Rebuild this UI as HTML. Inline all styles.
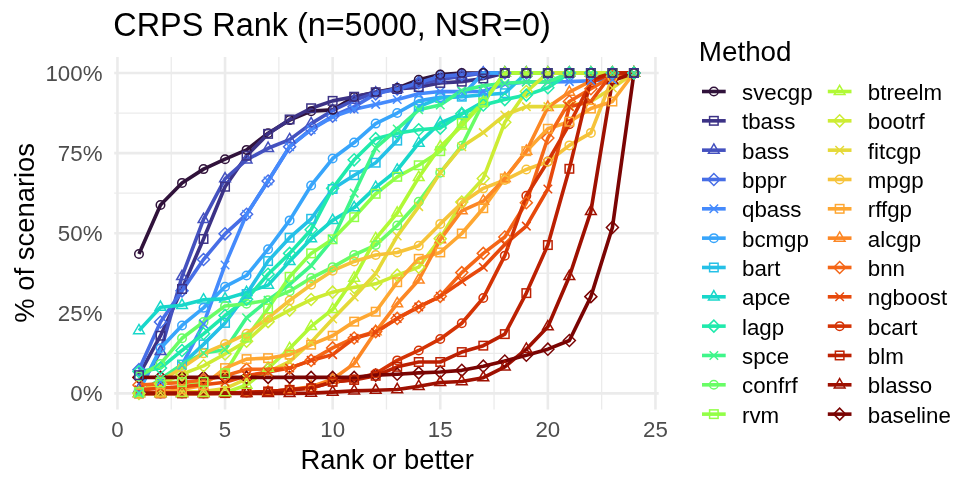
<!DOCTYPE html>
<html><head><meta charset="utf-8"><title>CRPS Rank</title>
<style>html,body{margin:0;padding:0;background:#fff}svg{display:block}</style></head>
<body>
<svg width="977" height="488" viewBox="0 0 977 488">
<rect width="977" height="488" fill="#fff"/>
<g><line x1="171.25" x2="171.25" y1="57.0" y2="409.4" stroke="#ebebeb" stroke-width="1.3"/><line x1="278.85" x2="278.85" y1="57.0" y2="409.4" stroke="#ebebeb" stroke-width="1.3"/><line x1="386.45" x2="386.45" y1="57.0" y2="409.4" stroke="#ebebeb" stroke-width="1.3"/><line x1="494.05" x2="494.05" y1="57.0" y2="409.4" stroke="#ebebeb" stroke-width="1.3"/><line x1="601.65" x2="601.65" y1="57.0" y2="409.4" stroke="#ebebeb" stroke-width="1.3"/><line y1="353.35" y2="353.35" x1="114.2" x2="658.7" stroke="#ebebeb" stroke-width="1.3"/><line y1="273.25" y2="273.25" x1="114.2" x2="658.7" stroke="#ebebeb" stroke-width="1.3"/><line y1="193.15" y2="193.15" x1="114.2" x2="658.7" stroke="#ebebeb" stroke-width="1.3"/><line y1="113.05" y2="113.05" x1="114.2" x2="658.7" stroke="#ebebeb" stroke-width="1.3"/><line x1="117.45" x2="117.45" y1="57.0" y2="409.4" stroke="#ebebeb" stroke-width="2.6"/><line x1="225.05" x2="225.05" y1="57.0" y2="409.4" stroke="#ebebeb" stroke-width="2.6"/><line x1="332.65" x2="332.65" y1="57.0" y2="409.4" stroke="#ebebeb" stroke-width="2.6"/><line x1="440.25" x2="440.25" y1="57.0" y2="409.4" stroke="#ebebeb" stroke-width="2.6"/><line x1="547.85" x2="547.85" y1="57.0" y2="409.4" stroke="#ebebeb" stroke-width="2.6"/><line x1="655.45" x2="655.45" y1="57.0" y2="409.4" stroke="#ebebeb" stroke-width="2.6"/><line y1="393.40" y2="393.40" x1="114.2" x2="658.7" stroke="#ebebeb" stroke-width="2.6"/><line y1="313.30" y2="313.30" x1="114.2" x2="658.7" stroke="#ebebeb" stroke-width="2.6"/><line y1="233.20" y2="233.20" x1="114.2" x2="658.7" stroke="#ebebeb" stroke-width="2.6"/><line y1="153.10" y2="153.10" x1="114.2" x2="658.7" stroke="#ebebeb" stroke-width="2.6"/><line y1="73.00" y2="73.00" x1="114.2" x2="658.7" stroke="#ebebeb" stroke-width="2.6"/></g>
<g fill="none" stroke-linejoin="round" stroke-linecap="butt">
<polyline points="138.97,254.03 160.49,205.00 182.01,182.90 203.53,169.12 225.05,159.19 246.57,149.90 268.09,133.24 289.61,120.10 311.13,111.13 332.65,109.85 354.17,97.03 375.69,92.22 397.21,88.06 418.73,79.73 440.25,74.60 461.77,73.00 483.29,73.00 504.81,73.00 526.33,73.00 547.85,73.00 569.37,73.00 590.89,73.00 612.41,73.00 633.93,73.00" stroke="#30123b" stroke-width="3.6"/>
<polyline points="138.97,375.14 160.49,335.73 182.01,288.95 203.53,238.97 225.05,186.74 246.57,155.66 268.09,133.88 289.61,119.46 311.13,108.24 332.65,100.87 354.17,96.71 375.69,92.22 397.21,89.02 418.73,87.10 440.25,82.93 461.77,81.65 483.29,78.45 504.81,73.00 526.33,73.00 547.85,73.00 569.37,73.00 590.89,73.00 612.41,73.00 633.93,73.00" stroke="#3c3286" stroke-width="3.6"/>
<polyline points="138.97,389.23 160.49,351.43 182.01,276.45 203.53,219.42 225.05,178.73 246.57,159.83 268.09,148.29 289.61,139.64 311.13,123.62 332.65,110.49 354.17,100.23 375.69,92.86 397.21,89.02 418.73,84.21 440.25,79.41 461.77,76.20 483.29,73.00 504.81,73.00 526.33,73.00 547.85,73.00 569.37,73.00 590.89,73.00 612.41,73.00 633.93,73.00" stroke="#4451bf" stroke-width="3.6"/>
<polyline points="138.97,369.69 160.49,321.95 182.01,290.87 203.53,259.47 225.05,233.84 246.57,214.30 268.09,180.97 289.61,146.69 311.13,129.07 332.65,116.25 354.17,106.64 375.69,93.83 397.21,89.02 418.73,82.61 440.25,76.20 461.77,74.60 483.29,73.00 504.81,73.00 526.33,73.00 547.85,73.00 569.37,73.00 590.89,73.00 612.41,73.00 633.93,73.00" stroke="#476ee6" stroke-width="3.6"/>
<polyline points="138.97,392.12 160.49,381.87 182.01,365.20 203.53,323.87 225.05,264.92 246.57,214.30 268.09,180.97 289.61,146.69 311.13,129.71 332.65,116.89 354.17,109.21 375.69,104.40 397.21,99.59 418.73,93.83 440.25,91.58 461.77,91.58 483.29,91.26 504.81,84.21 526.33,81.97 547.85,81.97 569.37,81.65 590.89,80.69 612.41,79.73 633.93,73.00" stroke="#458afc" stroke-width="3.6"/>
<polyline points="138.97,391.48 160.49,348.22 182.01,325.48 203.53,307.85 225.05,286.71 246.57,275.49 268.09,249.22 289.61,220.38 311.13,185.46 332.65,158.55 354.17,142.53 375.69,123.62 397.21,113.05 418.73,100.87 440.25,97.35 461.77,96.07 483.29,73.00 504.81,73.00 526.33,73.00 547.85,73.00 569.37,73.00 590.89,73.00 612.41,73.00 633.93,73.00" stroke="#38a5fb" stroke-width="3.6"/>
<polyline points="138.97,392.44 160.49,382.19 182.01,364.56 203.53,344.38 225.05,322.91 246.57,294.08 268.09,261.07 289.61,237.69 311.13,218.78 332.65,188.98 354.17,175.21 375.69,162.71 397.21,140.60 418.73,106.64 440.25,97.99 461.77,96.71 483.29,94.79 504.81,93.19 526.33,73.00 547.85,73.00 569.37,73.00 590.89,73.00 612.41,73.00 633.93,73.00" stroke="#25c0e7" stroke-width="3.6"/>
<polyline points="138.97,330.60 160.49,307.21 182.01,305.29 203.53,299.84 225.05,298.88 246.57,292.47 268.09,285.10 289.61,261.40 311.13,238.65 332.65,220.38 354.17,207.57 375.69,187.38 397.21,170.08 418.73,143.17 440.25,122.98 461.77,114.01 483.29,101.84 504.81,73.00 526.33,73.00 547.85,73.00 569.37,73.00 590.89,73.00 612.41,73.00 633.93,73.00" stroke="#18d7ca" stroke-width="3.6"/>
<polyline points="138.97,371.61 160.49,368.09 182.01,350.47 203.53,333.81 225.05,315.54 246.57,299.20 268.09,274.21 289.61,253.39 311.13,229.68 332.65,188.34 354.17,159.83 375.69,138.68 397.21,133.24 418.73,129.71 440.25,128.11 461.77,113.69 483.29,105.04 504.81,99.59 526.33,95.11 547.85,87.74 569.37,73.00 590.89,73.00 612.41,73.00 633.93,73.00" stroke="#20eaac" stroke-width="3.6"/>
<polyline points="138.97,393.40 160.49,378.98 182.01,364.56 203.53,353.03 225.05,349.83 246.57,317.79 268.09,300.16 289.61,284.46 311.13,265.56 332.65,239.29 354.17,193.15 375.69,147.97 397.21,129.07 418.73,109.85 440.25,105.04 461.77,90.62 483.29,85.82 504.81,83.25 526.33,81.97 547.85,81.97 569.37,73.00 590.89,73.00 612.41,73.00 633.93,73.00" stroke="#3ff68a" stroke-width="3.6"/>
<polyline points="138.97,376.42 160.49,363.92 182.01,338.29 203.53,321.95 225.05,305.93 246.57,303.69 268.09,300.16 289.61,291.19 311.13,278.06 332.65,267.16 354.17,254.99 375.69,245.05 397.21,225.51 418.73,201.80 440.25,172.64 461.77,145.73 483.29,102.48 504.81,73.00 526.33,73.00 547.85,73.00 569.37,73.00 590.89,73.00 612.41,73.00 633.93,73.00" stroke="#69fd66" stroke-width="3.6"/>
<polyline points="138.97,392.12 160.49,382.51 182.01,382.19 203.53,381.87 225.05,373.21 246.57,337.65 268.09,308.49 289.61,276.77 311.13,253.39 332.65,239.29 354.17,217.18 375.69,193.79 397.21,176.81 418.73,165.28 440.25,151.18 461.77,122.98 483.29,102.48 504.81,73.00 526.33,73.00 547.85,73.00 569.37,73.00 590.89,73.00 612.41,73.00 633.93,73.00" stroke="#92ff47" stroke-width="3.6"/>
<polyline points="138.97,393.40 160.49,393.40 182.01,393.40 203.53,393.40 225.05,392.76 246.57,385.07 268.09,368.09 289.61,348.54 311.13,326.44 332.65,309.46 354.17,278.06 375.69,238.65 397.21,213.01 418.73,177.45 440.25,146.69 461.77,125.87 483.29,102.48 504.81,73.00 526.33,73.00 547.85,73.00 569.37,73.00 590.89,73.00 612.41,73.00 633.93,73.00" stroke="#b1f936" stroke-width="3.6"/>
<polyline points="138.97,393.40 160.49,383.79 182.01,374.18 203.53,365.85 225.05,353.99 246.57,341.17 268.09,321.63 289.61,310.10 311.13,299.52 332.65,292.15 354.17,287.35 375.69,283.82 397.21,275.17 418.73,267.16 440.25,238.65 461.77,202.12 483.29,178.41 504.81,122.34 526.33,91.58 547.85,73.00 569.37,73.00 590.89,73.00 612.41,73.00 633.93,73.00" stroke="#cdec34" stroke-width="3.6"/>
<polyline points="138.97,393.40 160.49,392.76 182.01,392.12 203.53,391.48 225.05,388.59 246.57,378.98 268.09,371.93 289.61,361.68 311.13,342.14 332.65,319.07 354.17,296.96 375.69,273.57 397.21,236.08 418.73,206.61 440.25,172.64 461.77,146.69 483.29,132.59 504.81,114.97 526.33,106.64 547.85,106.64 569.37,105.68 590.89,101.52 612.41,88.06 633.93,73.00" stroke="#e5d938" stroke-width="3.6"/>
<polyline points="138.97,392.44 160.49,381.22 182.01,367.77 203.53,353.35 225.05,344.06 246.57,333.81 268.09,317.79 289.61,300.48 311.13,284.78 332.65,270.69 354.17,261.40 375.69,254.99 397.21,252.42 418.73,245.70 440.25,223.91 461.77,203.08 483.29,188.34 504.81,180.01 526.33,169.44 547.85,161.75 569.37,145.41 590.89,132.91 612.41,77.81 633.93,73.00" stroke="#f6c33a" stroke-width="3.6"/>
<polyline points="138.97,393.40 160.49,392.76 182.01,389.23 203.53,385.39 225.05,368.09 246.57,359.12 268.09,358.16 289.61,354.63 311.13,344.70 332.65,335.73 354.17,321.63 375.69,311.70 397.21,282.22 418.73,258.83 440.25,252.42 461.77,233.52 483.29,208.21 504.81,178.41 526.33,151.18 547.85,128.75 569.37,121.70 590.89,108.56 612.41,101.52 633.93,73.00" stroke="#fea732" stroke-width="3.6"/>
<polyline points="138.97,393.40 160.49,393.40 182.01,393.40 203.53,393.40 225.05,393.40 246.57,392.76 268.09,391.80 289.61,389.56 311.13,386.67 332.65,379.30 354.17,363.60 375.69,331.56 397.21,303.69 418.73,279.98 440.25,239.61 461.77,210.77 483.29,201.16 504.81,178.41 526.33,151.18 547.85,107.28 569.37,92.22 590.89,81.01 612.41,73.00 633.93,73.00" stroke="#fc8725" stroke-width="3.6"/>
<polyline points="138.97,385.07 160.49,383.79 182.01,382.51 203.53,379.94 225.05,375.78 246.57,369.37 268.09,369.05 289.61,368.09 311.13,360.40 332.65,347.90 354.17,337.97 375.69,331.56 397.21,318.43 418.73,306.89 440.25,296.32 461.77,272.61 483.29,253.39 504.81,237.04 526.33,202.76 547.85,138.04 569.37,101.52 590.89,88.70 612.41,76.20 633.93,73.00" stroke="#f46617" stroke-width="3.6"/>
<polyline points="138.97,389.88 160.49,388.27 182.01,386.67 203.53,384.75 225.05,382.19 246.57,375.78 268.09,371.93 289.61,368.09 311.13,360.40 332.65,354.63 354.17,338.29 375.69,332.52 397.21,318.43 418.73,306.89 440.25,296.32 461.77,281.58 483.29,267.16 504.81,244.41 526.33,226.15 547.85,188.98 569.37,106.64 590.89,101.52 612.41,73.00 633.93,73.00" stroke="#e7490c" stroke-width="3.6"/>
<polyline points="138.97,393.40 160.49,393.40 182.01,393.40 203.53,393.40 225.05,393.08 246.57,392.44 268.09,391.48 289.61,389.88 311.13,387.63 332.65,382.19 354.17,379.30 375.69,373.54 397.21,360.40 418.73,350.47 440.25,338.93 461.77,323.23 483.29,297.92 504.81,255.63 526.33,195.71 547.85,161.43 569.37,124.26 590.89,82.61 612.41,73.00 633.93,73.00" stroke="#d43305" stroke-width="3.6"/>
<polyline points="138.97,393.40 160.49,393.40 182.01,393.40 203.53,393.40 225.05,393.08 246.57,392.44 268.09,391.48 289.61,389.88 311.13,388.27 332.65,381.87 354.17,379.94 375.69,375.78 397.21,366.81 418.73,362.00 440.25,362.00 461.77,352.07 483.29,345.66 504.81,334.13 526.33,293.11 547.85,245.05 569.37,168.80 590.89,79.41 612.41,73.00 633.93,73.00" stroke="#bc2002" stroke-width="3.6"/>
<polyline points="138.97,393.40 160.49,393.40 182.01,393.40 203.53,393.40 225.05,393.40 246.57,393.40 268.09,393.40 289.61,393.40 311.13,393.08 332.65,392.12 354.17,390.84 375.69,390.20 397.21,389.56 418.73,386.35 440.25,382.51 461.77,381.55 483.29,377.70 504.81,366.81 526.33,349.18 547.85,326.76 569.37,276.45 590.89,211.41 612.41,80.69 633.93,73.00" stroke="#9e1001" stroke-width="3.6"/>
<polyline points="138.97,377.38 160.49,377.38 182.01,377.38 203.53,377.38 225.05,377.38 246.57,377.38 268.09,377.38 289.61,377.38 311.13,377.38 332.65,377.38 354.17,377.38 375.69,375.14 397.21,374.18 418.73,372.89 440.25,371.93 461.77,370.33 483.29,366.17 504.81,361.04 526.33,355.27 547.85,349.18 569.37,340.53 590.89,296.64 612.41,227.43 633.93,73.00" stroke="#7a0403" stroke-width="3.6"/>
</g>
<g>
<path d="M138.97 387.20L144.34 396.50L133.60 396.50Z" fill="none" stroke="#fc8725" stroke-width="1.5"/>
<path d="M160.49 387.20L165.86 396.50L155.12 396.50Z" fill="none" stroke="#fc8725" stroke-width="1.5"/>
<path d="M182.01 387.20L187.38 396.50L176.64 396.50Z" fill="none" stroke="#fc8725" stroke-width="1.5"/>
<path d="M203.53 387.20L208.90 396.50L198.16 396.50Z" fill="none" stroke="#fc8725" stroke-width="1.5"/>
<path d="M225.05 387.20L230.42 396.50L219.68 396.50Z" fill="none" stroke="#fc8725" stroke-width="1.5"/>
<path d="M246.57 386.56L251.94 395.86L241.20 395.86Z" fill="none" stroke="#fc8725" stroke-width="1.5"/>
<path d="M268.09 385.60L273.46 394.90L262.72 394.90Z" fill="none" stroke="#fc8725" stroke-width="1.5"/>
<path d="M289.61 383.36L294.98 392.65L284.24 392.65Z" fill="none" stroke="#fc8725" stroke-width="1.5"/>
<path d="M311.13 380.48L316.50 389.77L305.76 389.77Z" fill="none" stroke="#fc8725" stroke-width="1.5"/>
<path d="M332.65 373.11L338.02 382.40L327.28 382.40Z" fill="none" stroke="#fc8725" stroke-width="1.5"/>
<path d="M354.17 357.41L359.54 366.70L348.80 366.70Z" fill="none" stroke="#fc8725" stroke-width="1.5"/>
<path d="M375.69 325.37L381.06 334.66L370.32 334.66Z" fill="none" stroke="#fc8725" stroke-width="1.5"/>
<path d="M397.21 297.49L402.58 306.79L391.84 306.79Z" fill="none" stroke="#fc8725" stroke-width="1.5"/>
<path d="M418.73 273.78L424.10 283.08L413.36 283.08Z" fill="none" stroke="#fc8725" stroke-width="1.5"/>
<path d="M440.25 233.41L445.62 242.71L434.88 242.71Z" fill="none" stroke="#fc8725" stroke-width="1.5"/>
<path d="M461.77 204.58L467.14 213.87L456.40 213.87Z" fill="none" stroke="#fc8725" stroke-width="1.5"/>
<path d="M483.29 194.96L488.66 204.26L477.92 204.26Z" fill="none" stroke="#fc8725" stroke-width="1.5"/>
<path d="M504.81 172.22L510.18 181.51L499.44 181.51Z" fill="none" stroke="#fc8725" stroke-width="1.5"/>
<path d="M526.33 144.98L531.70 154.28L520.96 154.28Z" fill="none" stroke="#fc8725" stroke-width="1.5"/>
<path d="M547.85 101.09L553.22 110.38L542.48 110.38Z" fill="none" stroke="#fc8725" stroke-width="1.5"/>
<path d="M569.37 86.03L574.74 95.32L564.00 95.32Z" fill="none" stroke="#fc8725" stroke-width="1.5"/>
<path d="M590.89 74.81L596.26 84.11L585.52 84.11Z" fill="none" stroke="#fc8725" stroke-width="1.5"/>
<path d="M612.41 66.80L617.78 76.10L607.04 76.10Z" fill="none" stroke="#fc8725" stroke-width="1.5"/>
<path d="M633.93 66.80L639.30 76.10L628.56 76.10Z" fill="none" stroke="#fc8725" stroke-width="1.5"/>
<path d="M138.97 324.41L144.34 333.70L133.60 333.70Z" fill="none" stroke="#18d7ca" stroke-width="1.5"/>
<path d="M160.49 301.02L165.86 310.31L155.12 310.31Z" fill="none" stroke="#18d7ca" stroke-width="1.5"/>
<path d="M182.01 299.09L187.38 308.39L176.64 308.39Z" fill="none" stroke="#18d7ca" stroke-width="1.5"/>
<path d="M203.53 293.65L208.90 302.94L198.16 302.94Z" fill="none" stroke="#18d7ca" stroke-width="1.5"/>
<path d="M225.05 292.69L230.42 301.98L219.68 301.98Z" fill="none" stroke="#18d7ca" stroke-width="1.5"/>
<path d="M246.57 286.28L251.94 295.57L241.20 295.57Z" fill="none" stroke="#18d7ca" stroke-width="1.5"/>
<path d="M268.09 278.91L273.46 288.20L262.72 288.20Z" fill="none" stroke="#18d7ca" stroke-width="1.5"/>
<path d="M289.61 255.20L294.98 264.49L284.24 264.49Z" fill="none" stroke="#18d7ca" stroke-width="1.5"/>
<path d="M311.13 232.45L316.50 241.74L305.76 241.74Z" fill="none" stroke="#18d7ca" stroke-width="1.5"/>
<path d="M332.65 214.19L338.02 223.48L327.28 223.48Z" fill="none" stroke="#18d7ca" stroke-width="1.5"/>
<path d="M354.17 201.37L359.54 210.67L348.80 210.67Z" fill="none" stroke="#18d7ca" stroke-width="1.5"/>
<path d="M375.69 181.19L381.06 190.48L370.32 190.48Z" fill="none" stroke="#18d7ca" stroke-width="1.5"/>
<path d="M397.21 163.89L402.58 173.18L391.84 173.18Z" fill="none" stroke="#18d7ca" stroke-width="1.5"/>
<path d="M418.73 136.97L424.10 146.27L413.36 146.27Z" fill="none" stroke="#18d7ca" stroke-width="1.5"/>
<path d="M440.25 116.79L445.62 126.08L434.88 126.08Z" fill="none" stroke="#18d7ca" stroke-width="1.5"/>
<path d="M461.77 107.82L467.14 117.11L456.40 117.11Z" fill="none" stroke="#18d7ca" stroke-width="1.5"/>
<path d="M483.29 95.64L488.66 104.93L477.92 104.93Z" fill="none" stroke="#18d7ca" stroke-width="1.5"/>
<path d="M504.81 66.80L510.18 76.10L499.44 76.10Z" fill="none" stroke="#18d7ca" stroke-width="1.5"/>
<path d="M526.33 66.80L531.70 76.10L520.96 76.10Z" fill="none" stroke="#18d7ca" stroke-width="1.5"/>
<path d="M547.85 66.80L553.22 76.10L542.48 76.10Z" fill="none" stroke="#18d7ca" stroke-width="1.5"/>
<path d="M569.37 66.80L574.74 76.10L564.00 76.10Z" fill="none" stroke="#18d7ca" stroke-width="1.5"/>
<path d="M590.89 66.80L596.26 76.10L585.52 76.10Z" fill="none" stroke="#18d7ca" stroke-width="1.5"/>
<path d="M612.41 66.80L617.78 76.10L607.04 76.10Z" fill="none" stroke="#18d7ca" stroke-width="1.5"/>
<path d="M633.93 66.80L639.30 76.10L628.56 76.10Z" fill="none" stroke="#18d7ca" stroke-width="1.5"/>
<rect x="134.72" y="388.19" width="8.50" height="8.50" fill="none" stroke="#25c0e7" stroke-width="1.5"/>
<rect x="156.24" y="377.94" width="8.50" height="8.50" fill="none" stroke="#25c0e7" stroke-width="1.5"/>
<rect x="177.76" y="360.32" width="8.50" height="8.50" fill="none" stroke="#25c0e7" stroke-width="1.5"/>
<rect x="199.28" y="340.13" width="8.50" height="8.50" fill="none" stroke="#25c0e7" stroke-width="1.5"/>
<rect x="220.80" y="318.66" width="8.50" height="8.50" fill="none" stroke="#25c0e7" stroke-width="1.5"/>
<rect x="242.32" y="289.83" width="8.50" height="8.50" fill="none" stroke="#25c0e7" stroke-width="1.5"/>
<rect x="263.84" y="256.83" width="8.50" height="8.50" fill="none" stroke="#25c0e7" stroke-width="1.5"/>
<rect x="285.36" y="233.44" width="8.50" height="8.50" fill="none" stroke="#25c0e7" stroke-width="1.5"/>
<rect x="306.88" y="214.53" width="8.50" height="8.50" fill="none" stroke="#25c0e7" stroke-width="1.5"/>
<rect x="328.40" y="184.74" width="8.50" height="8.50" fill="none" stroke="#25c0e7" stroke-width="1.5"/>
<rect x="349.92" y="170.96" width="8.50" height="8.50" fill="none" stroke="#25c0e7" stroke-width="1.5"/>
<rect x="371.44" y="158.46" width="8.50" height="8.50" fill="none" stroke="#25c0e7" stroke-width="1.5"/>
<rect x="392.96" y="136.36" width="8.50" height="8.50" fill="none" stroke="#25c0e7" stroke-width="1.5"/>
<rect x="414.48" y="102.39" width="8.50" height="8.50" fill="none" stroke="#25c0e7" stroke-width="1.5"/>
<rect x="436.00" y="93.74" width="8.50" height="8.50" fill="none" stroke="#25c0e7" stroke-width="1.5"/>
<rect x="457.52" y="92.46" width="8.50" height="8.50" fill="none" stroke="#25c0e7" stroke-width="1.5"/>
<rect x="479.04" y="90.54" width="8.50" height="8.50" fill="none" stroke="#25c0e7" stroke-width="1.5"/>
<rect x="500.56" y="88.94" width="8.50" height="8.50" fill="none" stroke="#25c0e7" stroke-width="1.5"/>
<rect x="522.08" y="68.75" width="8.50" height="8.50" fill="none" stroke="#25c0e7" stroke-width="1.5"/>
<rect x="543.60" y="68.75" width="8.50" height="8.50" fill="none" stroke="#25c0e7" stroke-width="1.5"/>
<rect x="565.12" y="68.75" width="8.50" height="8.50" fill="none" stroke="#25c0e7" stroke-width="1.5"/>
<rect x="586.64" y="68.75" width="8.50" height="8.50" fill="none" stroke="#25c0e7" stroke-width="1.5"/>
<rect x="608.16" y="68.75" width="8.50" height="8.50" fill="none" stroke="#25c0e7" stroke-width="1.5"/>
<rect x="629.68" y="68.75" width="8.50" height="8.50" fill="none" stroke="#25c0e7" stroke-width="1.5"/>
<path d="M132.96 377.38L138.97 371.37L144.98 377.38L138.97 383.39Z" fill="none" stroke="#7a0403" stroke-width="1.5"/>
<path d="M154.48 377.38L160.49 371.37L166.50 377.38L160.49 383.39Z" fill="none" stroke="#7a0403" stroke-width="1.5"/>
<path d="M176.00 377.38L182.01 371.37L188.02 377.38L182.01 383.39Z" fill="none" stroke="#7a0403" stroke-width="1.5"/>
<path d="M197.52 377.38L203.53 371.37L209.54 377.38L203.53 383.39Z" fill="none" stroke="#7a0403" stroke-width="1.5"/>
<path d="M219.04 377.38L225.05 371.37L231.06 377.38L225.05 383.39Z" fill="none" stroke="#7a0403" stroke-width="1.5"/>
<path d="M240.56 377.38L246.57 371.37L252.58 377.38L246.57 383.39Z" fill="none" stroke="#7a0403" stroke-width="1.5"/>
<path d="M262.08 377.38L268.09 371.37L274.10 377.38L268.09 383.39Z" fill="none" stroke="#7a0403" stroke-width="1.5"/>
<path d="M283.60 377.38L289.61 371.37L295.62 377.38L289.61 383.39Z" fill="none" stroke="#7a0403" stroke-width="1.5"/>
<path d="M305.12 377.38L311.13 371.37L317.14 377.38L311.13 383.39Z" fill="none" stroke="#7a0403" stroke-width="1.5"/>
<path d="M326.64 377.38L332.65 371.37L338.66 377.38L332.65 383.39Z" fill="none" stroke="#7a0403" stroke-width="1.5"/>
<path d="M348.16 377.38L354.17 371.37L360.18 377.38L354.17 383.39Z" fill="none" stroke="#7a0403" stroke-width="1.5"/>
<path d="M369.68 375.14L375.69 369.13L381.70 375.14L375.69 381.15Z" fill="none" stroke="#7a0403" stroke-width="1.5"/>
<path d="M391.20 374.18L397.21 368.17L403.22 374.18L397.21 380.18Z" fill="none" stroke="#7a0403" stroke-width="1.5"/>
<path d="M412.72 372.89L418.73 366.89L424.74 372.89L418.73 378.90Z" fill="none" stroke="#7a0403" stroke-width="1.5"/>
<path d="M434.24 371.93L440.25 365.92L446.26 371.93L440.25 377.94Z" fill="none" stroke="#7a0403" stroke-width="1.5"/>
<path d="M455.76 370.33L461.77 364.32L467.78 370.33L461.77 376.34Z" fill="none" stroke="#7a0403" stroke-width="1.5"/>
<path d="M477.28 366.17L483.29 360.16L489.30 366.17L483.29 372.17Z" fill="none" stroke="#7a0403" stroke-width="1.5"/>
<path d="M498.80 361.04L504.81 355.03L510.82 361.04L504.81 367.05Z" fill="none" stroke="#7a0403" stroke-width="1.5"/>
<path d="M520.32 355.27L526.33 349.26L532.34 355.27L526.33 361.28Z" fill="none" stroke="#7a0403" stroke-width="1.5"/>
<path d="M541.84 349.18L547.85 343.18L553.86 349.18L547.85 355.19Z" fill="none" stroke="#7a0403" stroke-width="1.5"/>
<path d="M563.36 340.53L569.37 334.53L575.38 340.53L569.37 346.54Z" fill="none" stroke="#7a0403" stroke-width="1.5"/>
<path d="M584.88 296.64L590.89 290.63L596.90 296.64L590.89 302.65Z" fill="none" stroke="#7a0403" stroke-width="1.5"/>
<path d="M606.40 227.43L612.41 221.42L618.42 227.43L612.41 233.44Z" fill="none" stroke="#7a0403" stroke-width="1.5"/>
<path d="M627.92 73.00L633.93 66.99L639.94 73.00L633.93 79.01Z" fill="none" stroke="#7a0403" stroke-width="1.5"/>
<path d="M138.97 383.04L144.34 392.33L133.60 392.33Z" fill="none" stroke="#4451bf" stroke-width="1.5"/>
<path d="M160.49 345.23L165.86 354.53L155.12 354.53Z" fill="none" stroke="#4451bf" stroke-width="1.5"/>
<path d="M182.01 270.26L187.38 279.55L176.64 279.55Z" fill="none" stroke="#4451bf" stroke-width="1.5"/>
<path d="M203.53 213.23L208.90 222.52L198.16 222.52Z" fill="none" stroke="#4451bf" stroke-width="1.5"/>
<path d="M225.05 172.54L230.42 181.83L219.68 181.83Z" fill="none" stroke="#4451bf" stroke-width="1.5"/>
<path d="M246.57 153.63L251.94 162.93L241.20 162.93Z" fill="none" stroke="#4451bf" stroke-width="1.5"/>
<path d="M268.09 142.10L273.46 151.39L262.72 151.39Z" fill="none" stroke="#4451bf" stroke-width="1.5"/>
<path d="M289.61 133.45L294.98 142.74L284.24 142.74Z" fill="none" stroke="#4451bf" stroke-width="1.5"/>
<path d="M311.13 117.43L316.50 126.72L305.76 126.72Z" fill="none" stroke="#4451bf" stroke-width="1.5"/>
<path d="M332.65 104.29L338.02 113.58L327.28 113.58Z" fill="none" stroke="#4451bf" stroke-width="1.5"/>
<path d="M354.17 94.04L359.54 103.33L348.80 103.33Z" fill="none" stroke="#4451bf" stroke-width="1.5"/>
<path d="M375.69 86.67L381.06 95.96L370.32 95.96Z" fill="none" stroke="#4451bf" stroke-width="1.5"/>
<path d="M397.21 82.82L402.58 92.12L391.84 92.12Z" fill="none" stroke="#4451bf" stroke-width="1.5"/>
<path d="M418.73 78.02L424.10 87.31L413.36 87.31Z" fill="none" stroke="#4451bf" stroke-width="1.5"/>
<path d="M440.25 73.21L445.62 82.51L434.88 82.51Z" fill="none" stroke="#4451bf" stroke-width="1.5"/>
<path d="M461.77 70.01L467.14 79.30L456.40 79.30Z" fill="none" stroke="#4451bf" stroke-width="1.5"/>
<path d="M483.29 66.80L488.66 76.10L477.92 76.10Z" fill="none" stroke="#4451bf" stroke-width="1.5"/>
<path d="M504.81 66.80L510.18 76.10L499.44 76.10Z" fill="none" stroke="#4451bf" stroke-width="1.5"/>
<path d="M526.33 66.80L531.70 76.10L520.96 76.10Z" fill="none" stroke="#4451bf" stroke-width="1.5"/>
<path d="M547.85 66.80L553.22 76.10L542.48 76.10Z" fill="none" stroke="#4451bf" stroke-width="1.5"/>
<path d="M569.37 66.80L574.74 76.10L564.00 76.10Z" fill="none" stroke="#4451bf" stroke-width="1.5"/>
<path d="M590.89 66.80L596.26 76.10L585.52 76.10Z" fill="none" stroke="#4451bf" stroke-width="1.5"/>
<path d="M612.41 66.80L617.78 76.10L607.04 76.10Z" fill="none" stroke="#4451bf" stroke-width="1.5"/>
<path d="M633.93 66.80L639.30 76.10L628.56 76.10Z" fill="none" stroke="#4451bf" stroke-width="1.5"/>
<circle cx="138.97" cy="393.40" r="4.25" fill="none" stroke="#d43305" stroke-width="1.5"/>
<circle cx="160.49" cy="393.40" r="4.25" fill="none" stroke="#d43305" stroke-width="1.5"/>
<circle cx="182.01" cy="393.40" r="4.25" fill="none" stroke="#d43305" stroke-width="1.5"/>
<circle cx="203.53" cy="393.40" r="4.25" fill="none" stroke="#d43305" stroke-width="1.5"/>
<circle cx="225.05" cy="393.08" r="4.25" fill="none" stroke="#d43305" stroke-width="1.5"/>
<circle cx="246.57" cy="392.44" r="4.25" fill="none" stroke="#d43305" stroke-width="1.5"/>
<circle cx="268.09" cy="391.48" r="4.25" fill="none" stroke="#d43305" stroke-width="1.5"/>
<circle cx="289.61" cy="389.88" r="4.25" fill="none" stroke="#d43305" stroke-width="1.5"/>
<circle cx="311.13" cy="387.63" r="4.25" fill="none" stroke="#d43305" stroke-width="1.5"/>
<circle cx="332.65" cy="382.19" r="4.25" fill="none" stroke="#d43305" stroke-width="1.5"/>
<circle cx="354.17" cy="379.30" r="4.25" fill="none" stroke="#d43305" stroke-width="1.5"/>
<circle cx="375.69" cy="373.54" r="4.25" fill="none" stroke="#d43305" stroke-width="1.5"/>
<circle cx="397.21" cy="360.40" r="4.25" fill="none" stroke="#d43305" stroke-width="1.5"/>
<circle cx="418.73" cy="350.47" r="4.25" fill="none" stroke="#d43305" stroke-width="1.5"/>
<circle cx="440.25" cy="338.93" r="4.25" fill="none" stroke="#d43305" stroke-width="1.5"/>
<circle cx="461.77" cy="323.23" r="4.25" fill="none" stroke="#d43305" stroke-width="1.5"/>
<circle cx="483.29" cy="297.92" r="4.25" fill="none" stroke="#d43305" stroke-width="1.5"/>
<circle cx="504.81" cy="255.63" r="4.25" fill="none" stroke="#d43305" stroke-width="1.5"/>
<circle cx="526.33" cy="195.71" r="4.25" fill="none" stroke="#d43305" stroke-width="1.5"/>
<circle cx="547.85" cy="161.43" r="4.25" fill="none" stroke="#d43305" stroke-width="1.5"/>
<circle cx="569.37" cy="124.26" r="4.25" fill="none" stroke="#d43305" stroke-width="1.5"/>
<circle cx="590.89" cy="82.61" r="4.25" fill="none" stroke="#d43305" stroke-width="1.5"/>
<circle cx="612.41" cy="73.00" r="4.25" fill="none" stroke="#d43305" stroke-width="1.5"/>
<circle cx="633.93" cy="73.00" r="4.25" fill="none" stroke="#d43305" stroke-width="1.5"/>
<circle cx="138.97" cy="391.48" r="4.25" fill="none" stroke="#38a5fb" stroke-width="1.5"/>
<circle cx="160.49" cy="348.22" r="4.25" fill="none" stroke="#38a5fb" stroke-width="1.5"/>
<circle cx="182.01" cy="325.48" r="4.25" fill="none" stroke="#38a5fb" stroke-width="1.5"/>
<circle cx="203.53" cy="307.85" r="4.25" fill="none" stroke="#38a5fb" stroke-width="1.5"/>
<circle cx="225.05" cy="286.71" r="4.25" fill="none" stroke="#38a5fb" stroke-width="1.5"/>
<circle cx="246.57" cy="275.49" r="4.25" fill="none" stroke="#38a5fb" stroke-width="1.5"/>
<circle cx="268.09" cy="249.22" r="4.25" fill="none" stroke="#38a5fb" stroke-width="1.5"/>
<circle cx="289.61" cy="220.38" r="4.25" fill="none" stroke="#38a5fb" stroke-width="1.5"/>
<circle cx="311.13" cy="185.46" r="4.25" fill="none" stroke="#38a5fb" stroke-width="1.5"/>
<circle cx="332.65" cy="158.55" r="4.25" fill="none" stroke="#38a5fb" stroke-width="1.5"/>
<circle cx="354.17" cy="142.53" r="4.25" fill="none" stroke="#38a5fb" stroke-width="1.5"/>
<circle cx="375.69" cy="123.62" r="4.25" fill="none" stroke="#38a5fb" stroke-width="1.5"/>
<circle cx="397.21" cy="113.05" r="4.25" fill="none" stroke="#38a5fb" stroke-width="1.5"/>
<circle cx="418.73" cy="100.87" r="4.25" fill="none" stroke="#38a5fb" stroke-width="1.5"/>
<circle cx="440.25" cy="97.35" r="4.25" fill="none" stroke="#38a5fb" stroke-width="1.5"/>
<circle cx="461.77" cy="96.07" r="4.25" fill="none" stroke="#38a5fb" stroke-width="1.5"/>
<circle cx="483.29" cy="73.00" r="4.25" fill="none" stroke="#38a5fb" stroke-width="1.5"/>
<circle cx="504.81" cy="73.00" r="4.25" fill="none" stroke="#38a5fb" stroke-width="1.5"/>
<circle cx="526.33" cy="73.00" r="4.25" fill="none" stroke="#38a5fb" stroke-width="1.5"/>
<circle cx="547.85" cy="73.00" r="4.25" fill="none" stroke="#38a5fb" stroke-width="1.5"/>
<circle cx="569.37" cy="73.00" r="4.25" fill="none" stroke="#38a5fb" stroke-width="1.5"/>
<circle cx="590.89" cy="73.00" r="4.25" fill="none" stroke="#38a5fb" stroke-width="1.5"/>
<circle cx="612.41" cy="73.00" r="4.25" fill="none" stroke="#38a5fb" stroke-width="1.5"/>
<circle cx="633.93" cy="73.00" r="4.25" fill="none" stroke="#38a5fb" stroke-width="1.5"/>
<path d="M138.97 387.20L144.34 396.50L133.60 396.50Z" fill="none" stroke="#9e1001" stroke-width="1.5"/>
<path d="M160.49 387.20L165.86 396.50L155.12 396.50Z" fill="none" stroke="#9e1001" stroke-width="1.5"/>
<path d="M182.01 387.20L187.38 396.50L176.64 396.50Z" fill="none" stroke="#9e1001" stroke-width="1.5"/>
<path d="M203.53 387.20L208.90 396.50L198.16 396.50Z" fill="none" stroke="#9e1001" stroke-width="1.5"/>
<path d="M225.05 387.20L230.42 396.50L219.68 396.50Z" fill="none" stroke="#9e1001" stroke-width="1.5"/>
<path d="M246.57 387.20L251.94 396.50L241.20 396.50Z" fill="none" stroke="#9e1001" stroke-width="1.5"/>
<path d="M268.09 387.20L273.46 396.50L262.72 396.50Z" fill="none" stroke="#9e1001" stroke-width="1.5"/>
<path d="M289.61 387.20L294.98 396.50L284.24 396.50Z" fill="none" stroke="#9e1001" stroke-width="1.5"/>
<path d="M311.13 386.88L316.50 396.18L305.76 396.18Z" fill="none" stroke="#9e1001" stroke-width="1.5"/>
<path d="M332.65 385.92L338.02 395.22L327.28 395.22Z" fill="none" stroke="#9e1001" stroke-width="1.5"/>
<path d="M354.17 384.64L359.54 393.93L348.80 393.93Z" fill="none" stroke="#9e1001" stroke-width="1.5"/>
<path d="M375.69 384.00L381.06 393.29L370.32 393.29Z" fill="none" stroke="#9e1001" stroke-width="1.5"/>
<path d="M397.21 383.36L402.58 392.65L391.84 392.65Z" fill="none" stroke="#9e1001" stroke-width="1.5"/>
<path d="M418.73 380.16L424.10 389.45L413.36 389.45Z" fill="none" stroke="#9e1001" stroke-width="1.5"/>
<path d="M440.25 376.31L445.62 385.60L434.88 385.60Z" fill="none" stroke="#9e1001" stroke-width="1.5"/>
<path d="M461.77 375.35L467.14 384.64L456.40 384.64Z" fill="none" stroke="#9e1001" stroke-width="1.5"/>
<path d="M483.29 371.50L488.66 380.80L477.92 380.80Z" fill="none" stroke="#9e1001" stroke-width="1.5"/>
<path d="M504.81 360.61L510.18 369.90L499.44 369.90Z" fill="none" stroke="#9e1001" stroke-width="1.5"/>
<path d="M526.33 342.99L531.70 352.28L520.96 352.28Z" fill="none" stroke="#9e1001" stroke-width="1.5"/>
<path d="M547.85 320.56L553.22 329.85L542.48 329.85Z" fill="none" stroke="#9e1001" stroke-width="1.5"/>
<path d="M569.37 270.26L574.74 279.55L564.00 279.55Z" fill="none" stroke="#9e1001" stroke-width="1.5"/>
<path d="M590.89 205.22L596.26 214.51L585.52 214.51Z" fill="none" stroke="#9e1001" stroke-width="1.5"/>
<path d="M612.41 74.49L617.78 83.79L607.04 83.79Z" fill="none" stroke="#9e1001" stroke-width="1.5"/>
<path d="M633.93 66.80L639.30 76.10L628.56 76.10Z" fill="none" stroke="#9e1001" stroke-width="1.5"/>
<rect x="134.72" y="389.15" width="8.50" height="8.50" fill="none" stroke="#bc2002" stroke-width="1.5"/>
<rect x="156.24" y="389.15" width="8.50" height="8.50" fill="none" stroke="#bc2002" stroke-width="1.5"/>
<rect x="177.76" y="389.15" width="8.50" height="8.50" fill="none" stroke="#bc2002" stroke-width="1.5"/>
<rect x="199.28" y="389.15" width="8.50" height="8.50" fill="none" stroke="#bc2002" stroke-width="1.5"/>
<rect x="220.80" y="388.83" width="8.50" height="8.50" fill="none" stroke="#bc2002" stroke-width="1.5"/>
<rect x="242.32" y="388.19" width="8.50" height="8.50" fill="none" stroke="#bc2002" stroke-width="1.5"/>
<rect x="263.84" y="387.23" width="8.50" height="8.50" fill="none" stroke="#bc2002" stroke-width="1.5"/>
<rect x="285.36" y="385.63" width="8.50" height="8.50" fill="none" stroke="#bc2002" stroke-width="1.5"/>
<rect x="306.88" y="384.02" width="8.50" height="8.50" fill="none" stroke="#bc2002" stroke-width="1.5"/>
<rect x="328.40" y="377.62" width="8.50" height="8.50" fill="none" stroke="#bc2002" stroke-width="1.5"/>
<rect x="349.92" y="375.69" width="8.50" height="8.50" fill="none" stroke="#bc2002" stroke-width="1.5"/>
<rect x="371.44" y="371.53" width="8.50" height="8.50" fill="none" stroke="#bc2002" stroke-width="1.5"/>
<rect x="392.96" y="362.56" width="8.50" height="8.50" fill="none" stroke="#bc2002" stroke-width="1.5"/>
<rect x="414.48" y="357.75" width="8.50" height="8.50" fill="none" stroke="#bc2002" stroke-width="1.5"/>
<rect x="436.00" y="357.75" width="8.50" height="8.50" fill="none" stroke="#bc2002" stroke-width="1.5"/>
<rect x="457.52" y="347.82" width="8.50" height="8.50" fill="none" stroke="#bc2002" stroke-width="1.5"/>
<rect x="479.04" y="341.41" width="8.50" height="8.50" fill="none" stroke="#bc2002" stroke-width="1.5"/>
<rect x="500.56" y="329.88" width="8.50" height="8.50" fill="none" stroke="#bc2002" stroke-width="1.5"/>
<rect x="522.08" y="288.87" width="8.50" height="8.50" fill="none" stroke="#bc2002" stroke-width="1.5"/>
<rect x="543.60" y="240.81" width="8.50" height="8.50" fill="none" stroke="#bc2002" stroke-width="1.5"/>
<rect x="565.12" y="164.55" width="8.50" height="8.50" fill="none" stroke="#bc2002" stroke-width="1.5"/>
<rect x="586.64" y="75.16" width="8.50" height="8.50" fill="none" stroke="#bc2002" stroke-width="1.5"/>
<rect x="608.16" y="68.75" width="8.50" height="8.50" fill="none" stroke="#bc2002" stroke-width="1.5"/>
<rect x="629.68" y="68.75" width="8.50" height="8.50" fill="none" stroke="#bc2002" stroke-width="1.5"/>
<path d="M132.96 385.07L138.97 379.06L144.98 385.07L138.97 391.08Z" fill="none" stroke="#f46617" stroke-width="1.5"/>
<path d="M154.48 383.79L160.49 377.78L166.50 383.79L160.49 389.80Z" fill="none" stroke="#f46617" stroke-width="1.5"/>
<path d="M176.00 382.51L182.01 376.50L188.02 382.51L182.01 388.51Z" fill="none" stroke="#f46617" stroke-width="1.5"/>
<path d="M197.52 379.94L203.53 373.93L209.54 379.94L203.53 385.95Z" fill="none" stroke="#f46617" stroke-width="1.5"/>
<path d="M219.04 375.78L225.05 369.77L231.06 375.78L225.05 381.79Z" fill="none" stroke="#f46617" stroke-width="1.5"/>
<path d="M240.56 369.37L246.57 363.36L252.58 369.37L246.57 375.38Z" fill="none" stroke="#f46617" stroke-width="1.5"/>
<path d="M262.08 369.05L268.09 363.04L274.10 369.05L268.09 375.06Z" fill="none" stroke="#f46617" stroke-width="1.5"/>
<path d="M283.60 368.09L289.61 362.08L295.62 368.09L289.61 374.10Z" fill="none" stroke="#f46617" stroke-width="1.5"/>
<path d="M305.12 360.40L311.13 354.39L317.14 360.40L311.13 366.41Z" fill="none" stroke="#f46617" stroke-width="1.5"/>
<path d="M326.64 347.90L332.65 341.89L338.66 347.90L332.65 353.91Z" fill="none" stroke="#f46617" stroke-width="1.5"/>
<path d="M348.16 337.97L354.17 331.96L360.18 337.97L354.17 343.98Z" fill="none" stroke="#f46617" stroke-width="1.5"/>
<path d="M369.68 331.56L375.69 325.55L381.70 331.56L375.69 337.57Z" fill="none" stroke="#f46617" stroke-width="1.5"/>
<path d="M391.20 318.43L397.21 312.42L403.22 318.43L397.21 324.43Z" fill="none" stroke="#f46617" stroke-width="1.5"/>
<path d="M412.72 306.89L418.73 300.88L424.74 306.89L418.73 312.90Z" fill="none" stroke="#f46617" stroke-width="1.5"/>
<path d="M434.24 296.32L440.25 290.31L446.26 296.32L440.25 302.33Z" fill="none" stroke="#f46617" stroke-width="1.5"/>
<path d="M455.76 272.61L461.77 266.60L467.78 272.61L461.77 278.62Z" fill="none" stroke="#f46617" stroke-width="1.5"/>
<path d="M477.28 253.39L483.29 247.38L489.30 253.39L483.29 259.39Z" fill="none" stroke="#f46617" stroke-width="1.5"/>
<path d="M498.80 237.04L504.81 231.04L510.82 237.04L504.81 243.05Z" fill="none" stroke="#f46617" stroke-width="1.5"/>
<path d="M520.32 202.76L526.33 196.75L532.34 202.76L526.33 208.77Z" fill="none" stroke="#f46617" stroke-width="1.5"/>
<path d="M541.84 138.04L547.85 132.03L553.86 138.04L547.85 144.05Z" fill="none" stroke="#f46617" stroke-width="1.5"/>
<path d="M563.36 101.52L569.37 95.51L575.38 101.52L569.37 107.52Z" fill="none" stroke="#f46617" stroke-width="1.5"/>
<path d="M584.88 88.70L590.89 82.69L596.90 88.70L590.89 94.71Z" fill="none" stroke="#f46617" stroke-width="1.5"/>
<path d="M606.40 76.20L612.41 70.20L618.42 76.20L612.41 82.21Z" fill="none" stroke="#f46617" stroke-width="1.5"/>
<path d="M627.92 73.00L633.93 66.99L639.94 73.00L633.93 79.01Z" fill="none" stroke="#f46617" stroke-width="1.5"/>
<path d="M132.96 393.40L138.97 387.39L144.98 393.40L138.97 399.41Z" fill="none" stroke="#cdec34" stroke-width="1.5"/>
<path d="M154.48 383.79L160.49 377.78L166.50 383.79L160.49 389.80Z" fill="none" stroke="#cdec34" stroke-width="1.5"/>
<path d="M176.00 374.18L182.01 368.17L188.02 374.18L182.01 380.18Z" fill="none" stroke="#cdec34" stroke-width="1.5"/>
<path d="M197.52 365.85L203.53 359.84L209.54 365.85L203.53 371.85Z" fill="none" stroke="#cdec34" stroke-width="1.5"/>
<path d="M219.04 353.99L225.05 347.98L231.06 353.99L225.05 360.00Z" fill="none" stroke="#cdec34" stroke-width="1.5"/>
<path d="M240.56 341.17L246.57 335.17L252.58 341.17L246.57 347.18Z" fill="none" stroke="#cdec34" stroke-width="1.5"/>
<path d="M262.08 321.63L268.09 315.62L274.10 321.63L268.09 327.64Z" fill="none" stroke="#cdec34" stroke-width="1.5"/>
<path d="M283.60 310.10L289.61 304.09L295.62 310.10L289.61 316.10Z" fill="none" stroke="#cdec34" stroke-width="1.5"/>
<path d="M305.12 299.52L311.13 293.51L317.14 299.52L311.13 305.53Z" fill="none" stroke="#cdec34" stroke-width="1.5"/>
<path d="M326.64 292.15L332.65 286.15L338.66 292.15L332.65 298.16Z" fill="none" stroke="#cdec34" stroke-width="1.5"/>
<path d="M348.16 287.35L354.17 281.34L360.18 287.35L354.17 293.36Z" fill="none" stroke="#cdec34" stroke-width="1.5"/>
<path d="M369.68 283.82L375.69 277.81L381.70 283.82L375.69 289.83Z" fill="none" stroke="#cdec34" stroke-width="1.5"/>
<path d="M391.20 275.17L397.21 269.16L403.22 275.17L397.21 281.18Z" fill="none" stroke="#cdec34" stroke-width="1.5"/>
<path d="M412.72 267.16L418.73 261.15L424.74 267.16L418.73 273.17Z" fill="none" stroke="#cdec34" stroke-width="1.5"/>
<path d="M434.24 238.65L440.25 232.64L446.26 238.65L440.25 244.66Z" fill="none" stroke="#cdec34" stroke-width="1.5"/>
<path d="M455.76 202.12L461.77 196.11L467.78 202.12L461.77 208.13Z" fill="none" stroke="#cdec34" stroke-width="1.5"/>
<path d="M477.28 178.41L483.29 172.40L489.30 178.41L483.29 184.42Z" fill="none" stroke="#cdec34" stroke-width="1.5"/>
<path d="M498.80 122.34L504.81 116.33L510.82 122.34L504.81 128.35Z" fill="none" stroke="#cdec34" stroke-width="1.5"/>
<path d="M520.32 91.58L526.33 85.57L532.34 91.58L526.33 97.59Z" fill="none" stroke="#cdec34" stroke-width="1.5"/>
<path d="M541.84 73.00L547.85 66.99L553.86 73.00L547.85 79.01Z" fill="none" stroke="#cdec34" stroke-width="1.5"/>
<path d="M563.36 73.00L569.37 66.99L575.38 73.00L569.37 79.01Z" fill="none" stroke="#cdec34" stroke-width="1.5"/>
<path d="M584.88 73.00L590.89 66.99L596.90 73.00L590.89 79.01Z" fill="none" stroke="#cdec34" stroke-width="1.5"/>
<path d="M606.40 73.00L612.41 66.99L618.42 73.00L612.41 79.01Z" fill="none" stroke="#cdec34" stroke-width="1.5"/>
<path d="M627.92 73.00L633.93 66.99L639.94 73.00L633.93 79.01Z" fill="none" stroke="#cdec34" stroke-width="1.5"/>
<path d="M132.96 369.69L138.97 363.68L144.98 369.69L138.97 375.70Z" fill="none" stroke="#476ee6" stroke-width="1.5"/>
<path d="M154.48 321.95L160.49 315.94L166.50 321.95L160.49 327.96Z" fill="none" stroke="#476ee6" stroke-width="1.5"/>
<path d="M176.00 290.87L182.01 284.86L188.02 290.87L182.01 296.88Z" fill="none" stroke="#476ee6" stroke-width="1.5"/>
<path d="M197.52 259.47L203.53 253.46L209.54 259.47L203.53 265.48Z" fill="none" stroke="#476ee6" stroke-width="1.5"/>
<path d="M219.04 233.84L225.05 227.83L231.06 233.84L225.05 239.85Z" fill="none" stroke="#476ee6" stroke-width="1.5"/>
<path d="M240.56 214.30L246.57 208.29L252.58 214.30L246.57 220.30Z" fill="none" stroke="#476ee6" stroke-width="1.5"/>
<path d="M262.08 180.97L268.09 174.97L274.10 180.97L268.09 186.98Z" fill="none" stroke="#476ee6" stroke-width="1.5"/>
<path d="M283.60 146.69L289.61 140.68L295.62 146.69L289.61 152.70Z" fill="none" stroke="#476ee6" stroke-width="1.5"/>
<path d="M305.12 129.07L311.13 123.06L317.14 129.07L311.13 135.08Z" fill="none" stroke="#476ee6" stroke-width="1.5"/>
<path d="M326.64 116.25L332.65 110.25L338.66 116.25L332.65 122.26Z" fill="none" stroke="#476ee6" stroke-width="1.5"/>
<path d="M348.16 106.64L354.17 100.63L360.18 106.64L354.17 112.65Z" fill="none" stroke="#476ee6" stroke-width="1.5"/>
<path d="M369.68 93.83L375.69 87.82L381.70 93.83L375.69 99.83Z" fill="none" stroke="#476ee6" stroke-width="1.5"/>
<path d="M391.20 89.02L397.21 83.01L403.22 89.02L397.21 95.03Z" fill="none" stroke="#476ee6" stroke-width="1.5"/>
<path d="M412.72 82.61L418.73 76.60L424.74 82.61L418.73 88.62Z" fill="none" stroke="#476ee6" stroke-width="1.5"/>
<path d="M434.24 76.20L440.25 70.20L446.26 76.20L440.25 82.21Z" fill="none" stroke="#476ee6" stroke-width="1.5"/>
<path d="M455.76 74.60L461.77 68.59L467.78 74.60L461.77 80.61Z" fill="none" stroke="#476ee6" stroke-width="1.5"/>
<path d="M477.28 73.00L483.29 66.99L489.30 73.00L483.29 79.01Z" fill="none" stroke="#476ee6" stroke-width="1.5"/>
<path d="M498.80 73.00L504.81 66.99L510.82 73.00L504.81 79.01Z" fill="none" stroke="#476ee6" stroke-width="1.5"/>
<path d="M520.32 73.00L526.33 66.99L532.34 73.00L526.33 79.01Z" fill="none" stroke="#476ee6" stroke-width="1.5"/>
<path d="M541.84 73.00L547.85 66.99L553.86 73.00L547.85 79.01Z" fill="none" stroke="#476ee6" stroke-width="1.5"/>
<path d="M563.36 73.00L569.37 66.99L575.38 73.00L569.37 79.01Z" fill="none" stroke="#476ee6" stroke-width="1.5"/>
<path d="M584.88 73.00L590.89 66.99L596.90 73.00L590.89 79.01Z" fill="none" stroke="#476ee6" stroke-width="1.5"/>
<path d="M606.40 73.00L612.41 66.99L618.42 73.00L612.41 79.01Z" fill="none" stroke="#476ee6" stroke-width="1.5"/>
<path d="M627.92 73.00L633.93 66.99L639.94 73.00L633.93 79.01Z" fill="none" stroke="#476ee6" stroke-width="1.5"/>
<path d="M138.97 387.20L144.34 396.50L133.60 396.50Z" fill="none" stroke="#b1f936" stroke-width="1.5"/>
<path d="M160.49 387.20L165.86 396.50L155.12 396.50Z" fill="none" stroke="#b1f936" stroke-width="1.5"/>
<path d="M182.01 387.20L187.38 396.50L176.64 396.50Z" fill="none" stroke="#b1f936" stroke-width="1.5"/>
<path d="M203.53 387.20L208.90 396.50L198.16 396.50Z" fill="none" stroke="#b1f936" stroke-width="1.5"/>
<path d="M225.05 386.56L230.42 395.86L219.68 395.86Z" fill="none" stroke="#b1f936" stroke-width="1.5"/>
<path d="M246.57 378.87L251.94 388.17L241.20 388.17Z" fill="none" stroke="#b1f936" stroke-width="1.5"/>
<path d="M268.09 361.89L273.46 371.19L262.72 371.19Z" fill="none" stroke="#b1f936" stroke-width="1.5"/>
<path d="M289.61 342.35L294.98 351.64L284.24 351.64Z" fill="none" stroke="#b1f936" stroke-width="1.5"/>
<path d="M311.13 320.24L316.50 329.53L305.76 329.53Z" fill="none" stroke="#b1f936" stroke-width="1.5"/>
<path d="M332.65 303.26L338.02 312.55L327.28 312.55Z" fill="none" stroke="#b1f936" stroke-width="1.5"/>
<path d="M354.17 271.86L359.54 281.15L348.80 281.15Z" fill="none" stroke="#b1f936" stroke-width="1.5"/>
<path d="M375.69 232.45L381.06 241.74L370.32 241.74Z" fill="none" stroke="#b1f936" stroke-width="1.5"/>
<path d="M397.21 206.82L402.58 216.11L391.84 216.11Z" fill="none" stroke="#b1f936" stroke-width="1.5"/>
<path d="M418.73 171.25L424.10 180.55L413.36 180.55Z" fill="none" stroke="#b1f936" stroke-width="1.5"/>
<path d="M440.25 140.50L445.62 149.79L434.88 149.79Z" fill="none" stroke="#b1f936" stroke-width="1.5"/>
<path d="M461.77 119.67L467.14 128.96L456.40 128.96Z" fill="none" stroke="#b1f936" stroke-width="1.5"/>
<path d="M483.29 96.28L488.66 105.57L477.92 105.57Z" fill="none" stroke="#b1f936" stroke-width="1.5"/>
<path d="M504.81 66.80L510.18 76.10L499.44 76.10Z" fill="none" stroke="#b1f936" stroke-width="1.5"/>
<path d="M526.33 66.80L531.70 76.10L520.96 76.10Z" fill="none" stroke="#b1f936" stroke-width="1.5"/>
<path d="M547.85 66.80L553.22 76.10L542.48 76.10Z" fill="none" stroke="#b1f936" stroke-width="1.5"/>
<path d="M569.37 66.80L574.74 76.10L564.00 76.10Z" fill="none" stroke="#b1f936" stroke-width="1.5"/>
<path d="M590.89 66.80L596.26 76.10L585.52 76.10Z" fill="none" stroke="#b1f936" stroke-width="1.5"/>
<path d="M612.41 66.80L617.78 76.10L607.04 76.10Z" fill="none" stroke="#b1f936" stroke-width="1.5"/>
<path d="M633.93 66.80L639.30 76.10L628.56 76.10Z" fill="none" stroke="#b1f936" stroke-width="1.5"/>
<circle cx="138.97" cy="376.42" r="4.25" fill="none" stroke="#69fd66" stroke-width="1.5"/>
<circle cx="160.49" cy="363.92" r="4.25" fill="none" stroke="#69fd66" stroke-width="1.5"/>
<circle cx="182.01" cy="338.29" r="4.25" fill="none" stroke="#69fd66" stroke-width="1.5"/>
<circle cx="203.53" cy="321.95" r="4.25" fill="none" stroke="#69fd66" stroke-width="1.5"/>
<circle cx="225.05" cy="305.93" r="4.25" fill="none" stroke="#69fd66" stroke-width="1.5"/>
<circle cx="246.57" cy="303.69" r="4.25" fill="none" stroke="#69fd66" stroke-width="1.5"/>
<circle cx="268.09" cy="300.16" r="4.25" fill="none" stroke="#69fd66" stroke-width="1.5"/>
<circle cx="289.61" cy="291.19" r="4.25" fill="none" stroke="#69fd66" stroke-width="1.5"/>
<circle cx="311.13" cy="278.06" r="4.25" fill="none" stroke="#69fd66" stroke-width="1.5"/>
<circle cx="332.65" cy="267.16" r="4.25" fill="none" stroke="#69fd66" stroke-width="1.5"/>
<circle cx="354.17" cy="254.99" r="4.25" fill="none" stroke="#69fd66" stroke-width="1.5"/>
<circle cx="375.69" cy="245.05" r="4.25" fill="none" stroke="#69fd66" stroke-width="1.5"/>
<circle cx="397.21" cy="225.51" r="4.25" fill="none" stroke="#69fd66" stroke-width="1.5"/>
<circle cx="418.73" cy="201.80" r="4.25" fill="none" stroke="#69fd66" stroke-width="1.5"/>
<circle cx="440.25" cy="172.64" r="4.25" fill="none" stroke="#69fd66" stroke-width="1.5"/>
<circle cx="461.77" cy="145.73" r="4.25" fill="none" stroke="#69fd66" stroke-width="1.5"/>
<circle cx="483.29" cy="102.48" r="4.25" fill="none" stroke="#69fd66" stroke-width="1.5"/>
<circle cx="504.81" cy="73.00" r="4.25" fill="none" stroke="#69fd66" stroke-width="1.5"/>
<circle cx="526.33" cy="73.00" r="4.25" fill="none" stroke="#69fd66" stroke-width="1.5"/>
<circle cx="547.85" cy="73.00" r="4.25" fill="none" stroke="#69fd66" stroke-width="1.5"/>
<circle cx="569.37" cy="73.00" r="4.25" fill="none" stroke="#69fd66" stroke-width="1.5"/>
<circle cx="590.89" cy="73.00" r="4.25" fill="none" stroke="#69fd66" stroke-width="1.5"/>
<circle cx="612.41" cy="73.00" r="4.25" fill="none" stroke="#69fd66" stroke-width="1.5"/>
<circle cx="633.93" cy="73.00" r="4.25" fill="none" stroke="#69fd66" stroke-width="1.5"/>
<path d="M134.72 389.15L143.22 397.65M134.72 397.65L143.22 389.15" fill="none" stroke="#e5d938" stroke-width="1.5"/>
<path d="M156.24 388.51L164.74 397.01M156.24 397.01L164.74 388.51" fill="none" stroke="#e5d938" stroke-width="1.5"/>
<path d="M177.76 387.87L186.26 396.37M177.76 396.37L186.26 387.87" fill="none" stroke="#e5d938" stroke-width="1.5"/>
<path d="M199.28 387.23L207.78 395.73M199.28 395.73L207.78 387.23" fill="none" stroke="#e5d938" stroke-width="1.5"/>
<path d="M220.80 384.35L229.30 392.84M220.80 392.84L229.30 384.35" fill="none" stroke="#e5d938" stroke-width="1.5"/>
<path d="M242.32 374.73L250.82 383.23M242.32 383.23L250.82 374.73" fill="none" stroke="#e5d938" stroke-width="1.5"/>
<path d="M263.84 367.68L272.34 376.18M263.84 376.18L272.34 367.68" fill="none" stroke="#e5d938" stroke-width="1.5"/>
<path d="M285.36 357.43L293.86 365.93M285.36 365.93L293.86 357.43" fill="none" stroke="#e5d938" stroke-width="1.5"/>
<path d="M306.88 337.89L315.38 346.38M306.88 346.38L315.38 337.89" fill="none" stroke="#e5d938" stroke-width="1.5"/>
<path d="M328.40 314.82L336.90 323.32M328.40 323.32L336.90 314.82" fill="none" stroke="#e5d938" stroke-width="1.5"/>
<path d="M349.92 292.71L358.42 301.21M349.92 301.21L358.42 292.71" fill="none" stroke="#e5d938" stroke-width="1.5"/>
<path d="M371.44 269.32L379.94 277.82M371.44 277.82L379.94 269.32" fill="none" stroke="#e5d938" stroke-width="1.5"/>
<path d="M392.96 231.83L401.46 240.33M392.96 240.33L401.46 231.83" fill="none" stroke="#e5d938" stroke-width="1.5"/>
<path d="M414.48 202.36L422.98 210.86M414.48 210.86L422.98 202.36" fill="none" stroke="#e5d938" stroke-width="1.5"/>
<path d="M436.00 168.40L444.50 176.89M436.00 176.89L444.50 168.40" fill="none" stroke="#e5d938" stroke-width="1.5"/>
<path d="M457.52 142.44L466.02 150.94M457.52 150.94L466.02 142.44" fill="none" stroke="#e5d938" stroke-width="1.5"/>
<path d="M479.04 128.35L487.54 136.84M479.04 136.84L487.54 128.35" fill="none" stroke="#e5d938" stroke-width="1.5"/>
<path d="M500.56 110.72L509.06 119.22M500.56 119.22L509.06 110.72" fill="none" stroke="#e5d938" stroke-width="1.5"/>
<path d="M522.08 102.39L530.58 110.89M522.08 110.89L530.58 102.39" fill="none" stroke="#e5d938" stroke-width="1.5"/>
<path d="M543.60 102.39L552.10 110.89M543.60 110.89L552.10 102.39" fill="none" stroke="#e5d938" stroke-width="1.5"/>
<path d="M565.12 101.43L573.62 109.93M565.12 109.93L573.62 101.43" fill="none" stroke="#e5d938" stroke-width="1.5"/>
<path d="M586.64 97.27L595.14 105.76M586.64 105.76L595.14 97.27" fill="none" stroke="#e5d938" stroke-width="1.5"/>
<path d="M608.16 83.81L616.66 92.31M608.16 92.31L616.66 83.81" fill="none" stroke="#e5d938" stroke-width="1.5"/>
<path d="M629.68 68.75L638.18 77.25M629.68 77.25L638.18 68.75" fill="none" stroke="#e5d938" stroke-width="1.5"/>
<path d="M132.96 371.61L138.97 365.60L144.98 371.61L138.97 377.62Z" fill="none" stroke="#20eaac" stroke-width="1.5"/>
<path d="M154.48 368.09L160.49 362.08L166.50 368.09L160.49 374.10Z" fill="none" stroke="#20eaac" stroke-width="1.5"/>
<path d="M176.00 350.47L182.01 344.46L188.02 350.47L182.01 356.47Z" fill="none" stroke="#20eaac" stroke-width="1.5"/>
<path d="M197.52 333.81L203.53 327.80L209.54 333.81L203.53 339.81Z" fill="none" stroke="#20eaac" stroke-width="1.5"/>
<path d="M219.04 315.54L225.05 309.53L231.06 315.54L225.05 321.55Z" fill="none" stroke="#20eaac" stroke-width="1.5"/>
<path d="M240.56 299.20L246.57 293.19L252.58 299.20L246.57 305.21Z" fill="none" stroke="#20eaac" stroke-width="1.5"/>
<path d="M262.08 274.21L268.09 268.20L274.10 274.21L268.09 280.22Z" fill="none" stroke="#20eaac" stroke-width="1.5"/>
<path d="M283.60 253.39L289.61 247.38L295.62 253.39L289.61 259.39Z" fill="none" stroke="#20eaac" stroke-width="1.5"/>
<path d="M305.12 229.68L311.13 223.67L317.14 229.68L311.13 235.68Z" fill="none" stroke="#20eaac" stroke-width="1.5"/>
<path d="M326.64 188.34L332.65 182.34L338.66 188.34L332.65 194.35Z" fill="none" stroke="#20eaac" stroke-width="1.5"/>
<path d="M348.16 159.83L354.17 153.82L360.18 159.83L354.17 165.84Z" fill="none" stroke="#20eaac" stroke-width="1.5"/>
<path d="M369.68 138.68L375.69 132.67L381.70 138.68L375.69 144.69Z" fill="none" stroke="#20eaac" stroke-width="1.5"/>
<path d="M391.20 133.24L397.21 127.23L403.22 133.24L397.21 139.24Z" fill="none" stroke="#20eaac" stroke-width="1.5"/>
<path d="M412.72 129.71L418.73 123.70L424.74 129.71L418.73 135.72Z" fill="none" stroke="#20eaac" stroke-width="1.5"/>
<path d="M434.24 128.11L440.25 122.10L446.26 128.11L440.25 134.12Z" fill="none" stroke="#20eaac" stroke-width="1.5"/>
<path d="M455.76 113.69L461.77 107.68L467.78 113.69L461.77 119.70Z" fill="none" stroke="#20eaac" stroke-width="1.5"/>
<path d="M477.28 105.04L483.29 99.03L489.30 105.04L483.29 111.05Z" fill="none" stroke="#20eaac" stroke-width="1.5"/>
<path d="M498.80 99.59L504.81 93.58L510.82 99.59L504.81 105.60Z" fill="none" stroke="#20eaac" stroke-width="1.5"/>
<path d="M520.32 95.11L526.33 89.10L532.34 95.11L526.33 101.12Z" fill="none" stroke="#20eaac" stroke-width="1.5"/>
<path d="M541.84 87.74L547.85 81.73L553.86 87.74L547.85 93.75Z" fill="none" stroke="#20eaac" stroke-width="1.5"/>
<path d="M563.36 73.00L569.37 66.99L575.38 73.00L569.37 79.01Z" fill="none" stroke="#20eaac" stroke-width="1.5"/>
<path d="M584.88 73.00L590.89 66.99L596.90 73.00L590.89 79.01Z" fill="none" stroke="#20eaac" stroke-width="1.5"/>
<path d="M606.40 73.00L612.41 66.99L618.42 73.00L612.41 79.01Z" fill="none" stroke="#20eaac" stroke-width="1.5"/>
<path d="M627.92 73.00L633.93 66.99L639.94 73.00L633.93 79.01Z" fill="none" stroke="#20eaac" stroke-width="1.5"/>
<circle cx="138.97" cy="392.44" r="4.25" fill="none" stroke="#f6c33a" stroke-width="1.5"/>
<circle cx="160.49" cy="381.22" r="4.25" fill="none" stroke="#f6c33a" stroke-width="1.5"/>
<circle cx="182.01" cy="367.77" r="4.25" fill="none" stroke="#f6c33a" stroke-width="1.5"/>
<circle cx="203.53" cy="353.35" r="4.25" fill="none" stroke="#f6c33a" stroke-width="1.5"/>
<circle cx="225.05" cy="344.06" r="4.25" fill="none" stroke="#f6c33a" stroke-width="1.5"/>
<circle cx="246.57" cy="333.81" r="4.25" fill="none" stroke="#f6c33a" stroke-width="1.5"/>
<circle cx="268.09" cy="317.79" r="4.25" fill="none" stroke="#f6c33a" stroke-width="1.5"/>
<circle cx="289.61" cy="300.48" r="4.25" fill="none" stroke="#f6c33a" stroke-width="1.5"/>
<circle cx="311.13" cy="284.78" r="4.25" fill="none" stroke="#f6c33a" stroke-width="1.5"/>
<circle cx="332.65" cy="270.69" r="4.25" fill="none" stroke="#f6c33a" stroke-width="1.5"/>
<circle cx="354.17" cy="261.40" r="4.25" fill="none" stroke="#f6c33a" stroke-width="1.5"/>
<circle cx="375.69" cy="254.99" r="4.25" fill="none" stroke="#f6c33a" stroke-width="1.5"/>
<circle cx="397.21" cy="252.42" r="4.25" fill="none" stroke="#f6c33a" stroke-width="1.5"/>
<circle cx="418.73" cy="245.70" r="4.25" fill="none" stroke="#f6c33a" stroke-width="1.5"/>
<circle cx="440.25" cy="223.91" r="4.25" fill="none" stroke="#f6c33a" stroke-width="1.5"/>
<circle cx="461.77" cy="203.08" r="4.25" fill="none" stroke="#f6c33a" stroke-width="1.5"/>
<circle cx="483.29" cy="188.34" r="4.25" fill="none" stroke="#f6c33a" stroke-width="1.5"/>
<circle cx="504.81" cy="180.01" r="4.25" fill="none" stroke="#f6c33a" stroke-width="1.5"/>
<circle cx="526.33" cy="169.44" r="4.25" fill="none" stroke="#f6c33a" stroke-width="1.5"/>
<circle cx="547.85" cy="161.75" r="4.25" fill="none" stroke="#f6c33a" stroke-width="1.5"/>
<circle cx="569.37" cy="145.41" r="4.25" fill="none" stroke="#f6c33a" stroke-width="1.5"/>
<circle cx="590.89" cy="132.91" r="4.25" fill="none" stroke="#f6c33a" stroke-width="1.5"/>
<circle cx="612.41" cy="77.81" r="4.25" fill="none" stroke="#f6c33a" stroke-width="1.5"/>
<circle cx="633.93" cy="73.00" r="4.25" fill="none" stroke="#f6c33a" stroke-width="1.5"/>
<path d="M134.72 385.63L143.22 394.12M134.72 394.12L143.22 385.63" fill="none" stroke="#e7490c" stroke-width="1.5"/>
<path d="M156.24 384.02L164.74 392.52M156.24 392.52L164.74 384.02" fill="none" stroke="#e7490c" stroke-width="1.5"/>
<path d="M177.76 382.42L186.26 390.92M177.76 390.92L186.26 382.42" fill="none" stroke="#e7490c" stroke-width="1.5"/>
<path d="M199.28 380.50L207.78 389.00M199.28 389.00L207.78 380.50" fill="none" stroke="#e7490c" stroke-width="1.5"/>
<path d="M220.80 377.94L229.30 386.43M220.80 386.43L229.30 377.94" fill="none" stroke="#e7490c" stroke-width="1.5"/>
<path d="M242.32 371.53L250.82 380.03M242.32 380.03L250.82 371.53" fill="none" stroke="#e7490c" stroke-width="1.5"/>
<path d="M263.84 367.68L272.34 376.18M263.84 376.18L272.34 367.68" fill="none" stroke="#e7490c" stroke-width="1.5"/>
<path d="M285.36 363.84L293.86 372.34M285.36 372.34L293.86 363.84" fill="none" stroke="#e7490c" stroke-width="1.5"/>
<path d="M306.88 356.15L315.38 364.65M306.88 364.65L315.38 356.15" fill="none" stroke="#e7490c" stroke-width="1.5"/>
<path d="M328.40 350.38L336.90 358.88M328.40 358.88L336.90 350.38" fill="none" stroke="#e7490c" stroke-width="1.5"/>
<path d="M349.92 334.04L358.42 342.54M349.92 342.54L358.42 334.04" fill="none" stroke="#e7490c" stroke-width="1.5"/>
<path d="M371.44 328.28L379.94 336.77M371.44 336.77L379.94 328.28" fill="none" stroke="#e7490c" stroke-width="1.5"/>
<path d="M392.96 314.18L401.46 322.68M392.96 322.68L401.46 314.18" fill="none" stroke="#e7490c" stroke-width="1.5"/>
<path d="M414.48 302.64L422.98 311.14M414.48 311.14L422.98 302.64" fill="none" stroke="#e7490c" stroke-width="1.5"/>
<path d="M436.00 292.07L444.50 300.57M436.00 300.57L444.50 292.07" fill="none" stroke="#e7490c" stroke-width="1.5"/>
<path d="M457.52 277.33L466.02 285.83M457.52 285.83L466.02 277.33" fill="none" stroke="#e7490c" stroke-width="1.5"/>
<path d="M479.04 262.91L487.54 271.41M479.04 271.41L487.54 262.91" fill="none" stroke="#e7490c" stroke-width="1.5"/>
<path d="M500.56 240.17L509.06 248.66M500.56 248.66L509.06 240.17" fill="none" stroke="#e7490c" stroke-width="1.5"/>
<path d="M522.08 221.90L530.58 230.40M522.08 230.40L530.58 221.90" fill="none" stroke="#e7490c" stroke-width="1.5"/>
<path d="M543.60 184.74L552.10 193.23M543.60 193.23L552.10 184.74" fill="none" stroke="#e7490c" stroke-width="1.5"/>
<path d="M565.12 102.39L573.62 110.89M565.12 110.89L573.62 102.39" fill="none" stroke="#e7490c" stroke-width="1.5"/>
<path d="M586.64 97.27L595.14 105.76M586.64 105.76L595.14 97.27" fill="none" stroke="#e7490c" stroke-width="1.5"/>
<path d="M608.16 68.75L616.66 77.25M608.16 77.25L616.66 68.75" fill="none" stroke="#e7490c" stroke-width="1.5"/>
<path d="M629.68 68.75L638.18 77.25M629.68 77.25L638.18 68.75" fill="none" stroke="#e7490c" stroke-width="1.5"/>
<path d="M134.72 387.87L143.22 396.37M134.72 396.37L143.22 387.87" fill="none" stroke="#458afc" stroke-width="1.5"/>
<path d="M156.24 377.62L164.74 386.11M156.24 386.11L164.74 377.62" fill="none" stroke="#458afc" stroke-width="1.5"/>
<path d="M177.76 360.96L186.26 369.45M177.76 369.45L186.26 360.96" fill="none" stroke="#458afc" stroke-width="1.5"/>
<path d="M199.28 319.62L207.78 328.12M199.28 328.12L207.78 319.62" fill="none" stroke="#458afc" stroke-width="1.5"/>
<path d="M220.80 260.67L229.30 269.17M220.80 269.17L229.30 260.67" fill="none" stroke="#458afc" stroke-width="1.5"/>
<path d="M242.32 210.05L250.82 218.55M242.32 218.55L250.82 210.05" fill="none" stroke="#458afc" stroke-width="1.5"/>
<path d="M263.84 176.73L272.34 185.22M263.84 185.22L272.34 176.73" fill="none" stroke="#458afc" stroke-width="1.5"/>
<path d="M285.36 142.44L293.86 150.94M285.36 150.94L293.86 142.44" fill="none" stroke="#458afc" stroke-width="1.5"/>
<path d="M306.88 125.46L315.38 133.96M306.88 133.96L315.38 125.46" fill="none" stroke="#458afc" stroke-width="1.5"/>
<path d="M328.40 112.65L336.90 121.14M328.40 121.14L336.90 112.65" fill="none" stroke="#458afc" stroke-width="1.5"/>
<path d="M349.92 104.96L358.42 113.45M349.92 113.45L358.42 104.96" fill="none" stroke="#458afc" stroke-width="1.5"/>
<path d="M371.44 100.15L379.94 108.65M371.44 108.65L379.94 100.15" fill="none" stroke="#458afc" stroke-width="1.5"/>
<path d="M392.96 95.34L401.46 103.84M392.96 103.84L401.46 95.34" fill="none" stroke="#458afc" stroke-width="1.5"/>
<path d="M414.48 89.58L422.98 98.07M414.48 98.07L422.98 89.58" fill="none" stroke="#458afc" stroke-width="1.5"/>
<path d="M436.00 87.33L444.50 95.83M436.00 95.83L444.50 87.33" fill="none" stroke="#458afc" stroke-width="1.5"/>
<path d="M457.52 87.33L466.02 95.83M457.52 95.83L466.02 87.33" fill="none" stroke="#458afc" stroke-width="1.5"/>
<path d="M479.04 87.01L487.54 95.51M479.04 95.51L487.54 87.01" fill="none" stroke="#458afc" stroke-width="1.5"/>
<path d="M500.56 79.97L509.06 88.46M500.56 88.46L509.06 79.97" fill="none" stroke="#458afc" stroke-width="1.5"/>
<path d="M522.08 77.72L530.58 86.22M522.08 86.22L530.58 77.72" fill="none" stroke="#458afc" stroke-width="1.5"/>
<path d="M543.60 77.72L552.10 86.22M543.60 86.22L552.10 77.72" fill="none" stroke="#458afc" stroke-width="1.5"/>
<path d="M565.12 77.40L573.62 85.90M565.12 85.90L573.62 77.40" fill="none" stroke="#458afc" stroke-width="1.5"/>
<path d="M586.64 76.44L595.14 84.94M586.64 84.94L595.14 76.44" fill="none" stroke="#458afc" stroke-width="1.5"/>
<path d="M608.16 75.48L616.66 83.98M608.16 83.98L616.66 75.48" fill="none" stroke="#458afc" stroke-width="1.5"/>
<path d="M629.68 68.75L638.18 77.25M629.68 77.25L638.18 68.75" fill="none" stroke="#458afc" stroke-width="1.5"/>
<rect x="134.72" y="389.15" width="8.50" height="8.50" fill="none" stroke="#fea732" stroke-width="1.5"/>
<rect x="156.24" y="388.51" width="8.50" height="8.50" fill="none" stroke="#fea732" stroke-width="1.5"/>
<rect x="177.76" y="384.99" width="8.50" height="8.50" fill="none" stroke="#fea732" stroke-width="1.5"/>
<rect x="199.28" y="381.14" width="8.50" height="8.50" fill="none" stroke="#fea732" stroke-width="1.5"/>
<rect x="220.80" y="363.84" width="8.50" height="8.50" fill="none" stroke="#fea732" stroke-width="1.5"/>
<rect x="242.32" y="354.87" width="8.50" height="8.50" fill="none" stroke="#fea732" stroke-width="1.5"/>
<rect x="263.84" y="353.91" width="8.50" height="8.50" fill="none" stroke="#fea732" stroke-width="1.5"/>
<rect x="285.36" y="350.38" width="8.50" height="8.50" fill="none" stroke="#fea732" stroke-width="1.5"/>
<rect x="306.88" y="340.45" width="8.50" height="8.50" fill="none" stroke="#fea732" stroke-width="1.5"/>
<rect x="328.40" y="331.48" width="8.50" height="8.50" fill="none" stroke="#fea732" stroke-width="1.5"/>
<rect x="349.92" y="317.38" width="8.50" height="8.50" fill="none" stroke="#fea732" stroke-width="1.5"/>
<rect x="371.44" y="307.45" width="8.50" height="8.50" fill="none" stroke="#fea732" stroke-width="1.5"/>
<rect x="392.96" y="277.97" width="8.50" height="8.50" fill="none" stroke="#fea732" stroke-width="1.5"/>
<rect x="414.48" y="254.58" width="8.50" height="8.50" fill="none" stroke="#fea732" stroke-width="1.5"/>
<rect x="436.00" y="248.18" width="8.50" height="8.50" fill="none" stroke="#fea732" stroke-width="1.5"/>
<rect x="457.52" y="229.27" width="8.50" height="8.50" fill="none" stroke="#fea732" stroke-width="1.5"/>
<rect x="479.04" y="203.96" width="8.50" height="8.50" fill="none" stroke="#fea732" stroke-width="1.5"/>
<rect x="500.56" y="174.16" width="8.50" height="8.50" fill="none" stroke="#fea732" stroke-width="1.5"/>
<rect x="522.08" y="146.93" width="8.50" height="8.50" fill="none" stroke="#fea732" stroke-width="1.5"/>
<rect x="543.60" y="124.50" width="8.50" height="8.50" fill="none" stroke="#fea732" stroke-width="1.5"/>
<rect x="565.12" y="117.45" width="8.50" height="8.50" fill="none" stroke="#fea732" stroke-width="1.5"/>
<rect x="586.64" y="104.32" width="8.50" height="8.50" fill="none" stroke="#fea732" stroke-width="1.5"/>
<rect x="608.16" y="97.27" width="8.50" height="8.50" fill="none" stroke="#fea732" stroke-width="1.5"/>
<rect x="629.68" y="68.75" width="8.50" height="8.50" fill="none" stroke="#fea732" stroke-width="1.5"/>
<rect x="134.72" y="387.87" width="8.50" height="8.50" fill="none" stroke="#92ff47" stroke-width="1.5"/>
<rect x="156.24" y="378.26" width="8.50" height="8.50" fill="none" stroke="#92ff47" stroke-width="1.5"/>
<rect x="177.76" y="377.94" width="8.50" height="8.50" fill="none" stroke="#92ff47" stroke-width="1.5"/>
<rect x="199.28" y="377.62" width="8.50" height="8.50" fill="none" stroke="#92ff47" stroke-width="1.5"/>
<rect x="220.80" y="368.97" width="8.50" height="8.50" fill="none" stroke="#92ff47" stroke-width="1.5"/>
<rect x="242.32" y="333.40" width="8.50" height="8.50" fill="none" stroke="#92ff47" stroke-width="1.5"/>
<rect x="263.84" y="304.25" width="8.50" height="8.50" fill="none" stroke="#92ff47" stroke-width="1.5"/>
<rect x="285.36" y="272.53" width="8.50" height="8.50" fill="none" stroke="#92ff47" stroke-width="1.5"/>
<rect x="306.88" y="249.14" width="8.50" height="8.50" fill="none" stroke="#92ff47" stroke-width="1.5"/>
<rect x="328.40" y="235.04" width="8.50" height="8.50" fill="none" stroke="#92ff47" stroke-width="1.5"/>
<rect x="349.92" y="212.93" width="8.50" height="8.50" fill="none" stroke="#92ff47" stroke-width="1.5"/>
<rect x="371.44" y="189.54" width="8.50" height="8.50" fill="none" stroke="#92ff47" stroke-width="1.5"/>
<rect x="392.96" y="172.56" width="8.50" height="8.50" fill="none" stroke="#92ff47" stroke-width="1.5"/>
<rect x="414.48" y="161.03" width="8.50" height="8.50" fill="none" stroke="#92ff47" stroke-width="1.5"/>
<rect x="436.00" y="146.93" width="8.50" height="8.50" fill="none" stroke="#92ff47" stroke-width="1.5"/>
<rect x="457.52" y="118.73" width="8.50" height="8.50" fill="none" stroke="#92ff47" stroke-width="1.5"/>
<rect x="479.04" y="98.23" width="8.50" height="8.50" fill="none" stroke="#92ff47" stroke-width="1.5"/>
<rect x="500.56" y="68.75" width="8.50" height="8.50" fill="none" stroke="#92ff47" stroke-width="1.5"/>
<rect x="522.08" y="68.75" width="8.50" height="8.50" fill="none" stroke="#92ff47" stroke-width="1.5"/>
<rect x="543.60" y="68.75" width="8.50" height="8.50" fill="none" stroke="#92ff47" stroke-width="1.5"/>
<rect x="565.12" y="68.75" width="8.50" height="8.50" fill="none" stroke="#92ff47" stroke-width="1.5"/>
<rect x="586.64" y="68.75" width="8.50" height="8.50" fill="none" stroke="#92ff47" stroke-width="1.5"/>
<rect x="608.16" y="68.75" width="8.50" height="8.50" fill="none" stroke="#92ff47" stroke-width="1.5"/>
<rect x="629.68" y="68.75" width="8.50" height="8.50" fill="none" stroke="#92ff47" stroke-width="1.5"/>
<path d="M134.72 389.15L143.22 397.65M134.72 397.65L143.22 389.15" fill="none" stroke="#3ff68a" stroke-width="1.5"/>
<path d="M156.24 374.73L164.74 383.23M156.24 383.23L164.74 374.73" fill="none" stroke="#3ff68a" stroke-width="1.5"/>
<path d="M177.76 360.32L186.26 368.81M177.76 368.81L186.26 360.32" fill="none" stroke="#3ff68a" stroke-width="1.5"/>
<path d="M199.28 348.78L207.78 357.28M199.28 357.28L207.78 348.78" fill="none" stroke="#3ff68a" stroke-width="1.5"/>
<path d="M220.80 345.58L229.30 354.07M220.80 354.07L229.30 345.58" fill="none" stroke="#3ff68a" stroke-width="1.5"/>
<path d="M242.32 313.54L250.82 322.03M242.32 322.03L250.82 313.54" fill="none" stroke="#3ff68a" stroke-width="1.5"/>
<path d="M263.84 295.91L272.34 304.41M263.84 304.41L272.34 295.91" fill="none" stroke="#3ff68a" stroke-width="1.5"/>
<path d="M285.36 280.22L293.86 288.71M285.36 288.71L293.86 280.22" fill="none" stroke="#3ff68a" stroke-width="1.5"/>
<path d="M306.88 261.31L315.38 269.81M306.88 269.81L315.38 261.31" fill="none" stroke="#3ff68a" stroke-width="1.5"/>
<path d="M328.40 235.04L336.90 243.54M328.40 243.54L336.90 235.04" fill="none" stroke="#3ff68a" stroke-width="1.5"/>
<path d="M349.92 188.90L358.42 197.40M349.92 197.40L358.42 188.90" fill="none" stroke="#3ff68a" stroke-width="1.5"/>
<path d="M371.44 143.72L379.94 152.22M371.44 152.22L379.94 143.72" fill="none" stroke="#3ff68a" stroke-width="1.5"/>
<path d="M392.96 124.82L401.46 133.32M392.96 133.32L401.46 124.82" fill="none" stroke="#3ff68a" stroke-width="1.5"/>
<path d="M414.48 105.60L422.98 114.09M414.48 114.09L422.98 105.60" fill="none" stroke="#3ff68a" stroke-width="1.5"/>
<path d="M436.00 100.79L444.50 109.29M436.00 109.29L444.50 100.79" fill="none" stroke="#3ff68a" stroke-width="1.5"/>
<path d="M457.52 86.37L466.02 94.87M457.52 94.87L466.02 86.37" fill="none" stroke="#3ff68a" stroke-width="1.5"/>
<path d="M479.04 81.57L487.54 90.06M479.04 90.06L487.54 81.57" fill="none" stroke="#3ff68a" stroke-width="1.5"/>
<path d="M500.56 79.00L509.06 87.50M500.56 87.50L509.06 79.00" fill="none" stroke="#3ff68a" stroke-width="1.5"/>
<path d="M522.08 77.72L530.58 86.22M522.08 86.22L530.58 77.72" fill="none" stroke="#3ff68a" stroke-width="1.5"/>
<path d="M543.60 77.72L552.10 86.22M543.60 86.22L552.10 77.72" fill="none" stroke="#3ff68a" stroke-width="1.5"/>
<path d="M565.12 68.75L573.62 77.25M565.12 77.25L573.62 68.75" fill="none" stroke="#3ff68a" stroke-width="1.5"/>
<path d="M586.64 68.75L595.14 77.25M586.64 77.25L595.14 68.75" fill="none" stroke="#3ff68a" stroke-width="1.5"/>
<path d="M608.16 68.75L616.66 77.25M608.16 77.25L616.66 68.75" fill="none" stroke="#3ff68a" stroke-width="1.5"/>
<path d="M629.68 68.75L638.18 77.25M629.68 77.25L638.18 68.75" fill="none" stroke="#3ff68a" stroke-width="1.5"/>
<circle cx="138.97" cy="254.03" r="4.25" fill="none" stroke="#30123b" stroke-width="1.5"/>
<circle cx="160.49" cy="205.00" r="4.25" fill="none" stroke="#30123b" stroke-width="1.5"/>
<circle cx="182.01" cy="182.90" r="4.25" fill="none" stroke="#30123b" stroke-width="1.5"/>
<circle cx="203.53" cy="169.12" r="4.25" fill="none" stroke="#30123b" stroke-width="1.5"/>
<circle cx="225.05" cy="159.19" r="4.25" fill="none" stroke="#30123b" stroke-width="1.5"/>
<circle cx="246.57" cy="149.90" r="4.25" fill="none" stroke="#30123b" stroke-width="1.5"/>
<circle cx="268.09" cy="133.24" r="4.25" fill="none" stroke="#30123b" stroke-width="1.5"/>
<circle cx="289.61" cy="120.10" r="4.25" fill="none" stroke="#30123b" stroke-width="1.5"/>
<circle cx="311.13" cy="111.13" r="4.25" fill="none" stroke="#30123b" stroke-width="1.5"/>
<circle cx="332.65" cy="109.85" r="4.25" fill="none" stroke="#30123b" stroke-width="1.5"/>
<circle cx="354.17" cy="97.03" r="4.25" fill="none" stroke="#30123b" stroke-width="1.5"/>
<circle cx="375.69" cy="92.22" r="4.25" fill="none" stroke="#30123b" stroke-width="1.5"/>
<circle cx="397.21" cy="88.06" r="4.25" fill="none" stroke="#30123b" stroke-width="1.5"/>
<circle cx="418.73" cy="79.73" r="4.25" fill="none" stroke="#30123b" stroke-width="1.5"/>
<circle cx="440.25" cy="74.60" r="4.25" fill="none" stroke="#30123b" stroke-width="1.5"/>
<circle cx="461.77" cy="73.00" r="4.25" fill="none" stroke="#30123b" stroke-width="1.5"/>
<circle cx="483.29" cy="73.00" r="4.25" fill="none" stroke="#30123b" stroke-width="1.5"/>
<circle cx="504.81" cy="73.00" r="4.25" fill="none" stroke="#30123b" stroke-width="1.5"/>
<circle cx="526.33" cy="73.00" r="4.25" fill="none" stroke="#30123b" stroke-width="1.5"/>
<circle cx="547.85" cy="73.00" r="4.25" fill="none" stroke="#30123b" stroke-width="1.5"/>
<circle cx="569.37" cy="73.00" r="4.25" fill="none" stroke="#30123b" stroke-width="1.5"/>
<circle cx="590.89" cy="73.00" r="4.25" fill="none" stroke="#30123b" stroke-width="1.5"/>
<circle cx="612.41" cy="73.00" r="4.25" fill="none" stroke="#30123b" stroke-width="1.5"/>
<circle cx="633.93" cy="73.00" r="4.25" fill="none" stroke="#30123b" stroke-width="1.5"/>
<rect x="134.72" y="370.89" width="8.50" height="8.50" fill="none" stroke="#3c3286" stroke-width="1.5"/>
<rect x="156.24" y="331.48" width="8.50" height="8.50" fill="none" stroke="#3c3286" stroke-width="1.5"/>
<rect x="177.76" y="284.70" width="8.50" height="8.50" fill="none" stroke="#3c3286" stroke-width="1.5"/>
<rect x="199.28" y="234.72" width="8.50" height="8.50" fill="none" stroke="#3c3286" stroke-width="1.5"/>
<rect x="220.80" y="182.49" width="8.50" height="8.50" fill="none" stroke="#3c3286" stroke-width="1.5"/>
<rect x="242.32" y="151.41" width="8.50" height="8.50" fill="none" stroke="#3c3286" stroke-width="1.5"/>
<rect x="263.84" y="129.63" width="8.50" height="8.50" fill="none" stroke="#3c3286" stroke-width="1.5"/>
<rect x="285.36" y="115.21" width="8.50" height="8.50" fill="none" stroke="#3c3286" stroke-width="1.5"/>
<rect x="306.88" y="104.00" width="8.50" height="8.50" fill="none" stroke="#3c3286" stroke-width="1.5"/>
<rect x="328.40" y="96.63" width="8.50" height="8.50" fill="none" stroke="#3c3286" stroke-width="1.5"/>
<rect x="349.92" y="92.46" width="8.50" height="8.50" fill="none" stroke="#3c3286" stroke-width="1.5"/>
<rect x="371.44" y="87.98" width="8.50" height="8.50" fill="none" stroke="#3c3286" stroke-width="1.5"/>
<rect x="392.96" y="84.77" width="8.50" height="8.50" fill="none" stroke="#3c3286" stroke-width="1.5"/>
<rect x="414.48" y="82.85" width="8.50" height="8.50" fill="none" stroke="#3c3286" stroke-width="1.5"/>
<rect x="436.00" y="78.68" width="8.50" height="8.50" fill="none" stroke="#3c3286" stroke-width="1.5"/>
<rect x="457.52" y="77.40" width="8.50" height="8.50" fill="none" stroke="#3c3286" stroke-width="1.5"/>
<rect x="479.04" y="74.20" width="8.50" height="8.50" fill="none" stroke="#3c3286" stroke-width="1.5"/>
<rect x="500.56" y="68.75" width="8.50" height="8.50" fill="none" stroke="#3c3286" stroke-width="1.5"/>
<rect x="522.08" y="68.75" width="8.50" height="8.50" fill="none" stroke="#3c3286" stroke-width="1.5"/>
<rect x="543.60" y="68.75" width="8.50" height="8.50" fill="none" stroke="#3c3286" stroke-width="1.5"/>
<rect x="565.12" y="68.75" width="8.50" height="8.50" fill="none" stroke="#3c3286" stroke-width="1.5"/>
<rect x="586.64" y="68.75" width="8.50" height="8.50" fill="none" stroke="#3c3286" stroke-width="1.5"/>
<rect x="608.16" y="68.75" width="8.50" height="8.50" fill="none" stroke="#3c3286" stroke-width="1.5"/>
<rect x="629.68" y="68.75" width="8.50" height="8.50" fill="none" stroke="#3c3286" stroke-width="1.5"/>
</g>
<defs><filter id="gs" filterUnits="userSpaceOnUse" x="0" y="0" width="977" height="488"><feOffset dx="0" dy="0"/></filter></defs>
<g font-family="'Liberation Sans', sans-serif" filter="url(#gs)">
<text x="113.3" y="36.3" font-size="32.4" fill="#000">CRPS Rank (n=5000, NSR=0)</text>
<text x="387.2" y="468.8" font-size="27.4" fill="#000" text-anchor="middle">Rank or better</text>
<text transform="translate(33.8,232.8) rotate(-90)" font-size="27.4" fill="#000" text-anchor="middle">% of scenarios</text>
<text x="102.5" y="401.00" font-size="22.3" fill="#4d4d4d" text-anchor="end">0%</text>
<text x="102.5" y="320.90" font-size="22.3" fill="#4d4d4d" text-anchor="end">25%</text>
<text x="102.5" y="240.80" font-size="22.3" fill="#4d4d4d" text-anchor="end">50%</text>
<text x="102.5" y="160.70" font-size="22.3" fill="#4d4d4d" text-anchor="end">75%</text>
<text x="102.5" y="80.60" font-size="22.3" fill="#4d4d4d" text-anchor="end">100%</text>
<text x="117.45" y="437" font-size="22.3" fill="#4d4d4d" text-anchor="middle">0</text>
<text x="225.05" y="437" font-size="22.3" fill="#4d4d4d" text-anchor="middle">5</text>
<text x="332.65" y="437" font-size="22.3" fill="#4d4d4d" text-anchor="middle">10</text>
<text x="440.25" y="437" font-size="22.3" fill="#4d4d4d" text-anchor="middle">15</text>
<text x="547.85" y="437" font-size="22.3" fill="#4d4d4d" text-anchor="middle">20</text>
<text x="655.45" y="437" font-size="22.3" fill="#4d4d4d" text-anchor="middle">25</text>
<text x="698.8" y="60.5" font-size="27.8" fill="#000">Method</text>
<line x1="702.00" x2="725.70" y1="91.50" y2="91.50" stroke="#30123b" stroke-width="3.6"/>
<circle cx="713.85" cy="91.50" r="4.25" fill="none" stroke="#30123b" stroke-width="1.5"/>
<text x="742.00" y="100.00" font-size="22.3" fill="#000">svecgp</text>
<line x1="702.00" x2="725.70" y1="120.83" y2="120.83" stroke="#3c3286" stroke-width="3.6"/>
<rect x="709.60" y="116.58" width="8.50" height="8.50" fill="none" stroke="#3c3286" stroke-width="1.5"/>
<text x="742.00" y="129.33" font-size="22.3" fill="#000">tbass</text>
<line x1="702.00" x2="725.70" y1="150.16" y2="150.16" stroke="#4451bf" stroke-width="3.6"/>
<path d="M713.85 143.96L719.22 153.26L708.48 153.26Z" fill="none" stroke="#4451bf" stroke-width="1.5"/>
<text x="742.00" y="158.66" font-size="22.3" fill="#000">bass</text>
<line x1="702.00" x2="725.70" y1="179.49" y2="179.49" stroke="#476ee6" stroke-width="3.6"/>
<path d="M707.84 179.49L713.85 173.48L719.86 179.49L713.85 185.50Z" fill="none" stroke="#476ee6" stroke-width="1.5"/>
<text x="742.00" y="187.99" font-size="22.3" fill="#000">bppr</text>
<line x1="702.00" x2="725.70" y1="208.82" y2="208.82" stroke="#458afc" stroke-width="3.6"/>
<path d="M709.60 204.57L718.10 213.07M709.60 213.07L718.10 204.57" fill="none" stroke="#458afc" stroke-width="1.5"/>
<text x="742.00" y="217.32" font-size="22.3" fill="#000">qbass</text>
<line x1="702.00" x2="725.70" y1="238.15" y2="238.15" stroke="#38a5fb" stroke-width="3.6"/>
<circle cx="713.85" cy="238.15" r="4.25" fill="none" stroke="#38a5fb" stroke-width="1.5"/>
<text x="742.00" y="246.65" font-size="22.3" fill="#000">bcmgp</text>
<line x1="702.00" x2="725.70" y1="267.48" y2="267.48" stroke="#25c0e7" stroke-width="3.6"/>
<rect x="709.60" y="263.23" width="8.50" height="8.50" fill="none" stroke="#25c0e7" stroke-width="1.5"/>
<text x="742.00" y="275.98" font-size="22.3" fill="#000">bart</text>
<line x1="702.00" x2="725.70" y1="296.81" y2="296.81" stroke="#18d7ca" stroke-width="3.6"/>
<path d="M713.85 290.61L719.22 299.91L708.48 299.91Z" fill="none" stroke="#18d7ca" stroke-width="1.5"/>
<text x="742.00" y="305.31" font-size="22.3" fill="#000">apce</text>
<line x1="702.00" x2="725.70" y1="326.14" y2="326.14" stroke="#20eaac" stroke-width="3.6"/>
<path d="M707.84 326.14L713.85 320.13L719.86 326.14L713.85 332.15Z" fill="none" stroke="#20eaac" stroke-width="1.5"/>
<text x="742.00" y="334.64" font-size="22.3" fill="#000">lagp</text>
<line x1="702.00" x2="725.70" y1="355.47" y2="355.47" stroke="#3ff68a" stroke-width="3.6"/>
<path d="M709.60 351.22L718.10 359.72M709.60 359.72L718.10 351.22" fill="none" stroke="#3ff68a" stroke-width="1.5"/>
<text x="742.00" y="363.97" font-size="22.3" fill="#000">spce</text>
<line x1="702.00" x2="725.70" y1="384.80" y2="384.80" stroke="#69fd66" stroke-width="3.6"/>
<circle cx="713.85" cy="384.80" r="4.25" fill="none" stroke="#69fd66" stroke-width="1.5"/>
<text x="742.00" y="393.30" font-size="22.3" fill="#000">confrf</text>
<line x1="702.00" x2="725.70" y1="414.13" y2="414.13" stroke="#92ff47" stroke-width="3.6"/>
<rect x="709.60" y="409.88" width="8.50" height="8.50" fill="none" stroke="#92ff47" stroke-width="1.5"/>
<text x="742.00" y="422.63" font-size="22.3" fill="#000">rvm</text>
<line x1="827.80" x2="851.50" y1="91.50" y2="91.50" stroke="#b1f936" stroke-width="3.6"/>
<path d="M839.65 85.30L845.02 94.60L834.28 94.60Z" fill="none" stroke="#b1f936" stroke-width="1.5"/>
<text x="867.80" y="100.00" font-size="22.3" fill="#000">btreelm</text>
<line x1="827.80" x2="851.50" y1="120.83" y2="120.83" stroke="#cdec34" stroke-width="3.6"/>
<path d="M833.64 120.83L839.65 114.82L845.66 120.83L839.65 126.84Z" fill="none" stroke="#cdec34" stroke-width="1.5"/>
<text x="867.80" y="129.33" font-size="22.3" fill="#000">bootrf</text>
<line x1="827.80" x2="851.50" y1="150.16" y2="150.16" stroke="#e5d938" stroke-width="3.6"/>
<path d="M835.40 145.91L843.90 154.41M835.40 154.41L843.90 145.91" fill="none" stroke="#e5d938" stroke-width="1.5"/>
<text x="867.80" y="158.66" font-size="22.3" fill="#000">fitcgp</text>
<line x1="827.80" x2="851.50" y1="179.49" y2="179.49" stroke="#f6c33a" stroke-width="3.6"/>
<circle cx="839.65" cy="179.49" r="4.25" fill="none" stroke="#f6c33a" stroke-width="1.5"/>
<text x="867.80" y="187.99" font-size="22.3" fill="#000">mpgp</text>
<line x1="827.80" x2="851.50" y1="208.82" y2="208.82" stroke="#fea732" stroke-width="3.6"/>
<rect x="835.40" y="204.57" width="8.50" height="8.50" fill="none" stroke="#fea732" stroke-width="1.5"/>
<text x="867.80" y="217.32" font-size="22.3" fill="#000">rffgp</text>
<line x1="827.80" x2="851.50" y1="238.15" y2="238.15" stroke="#fc8725" stroke-width="3.6"/>
<path d="M839.65 231.95L845.02 241.25L834.28 241.25Z" fill="none" stroke="#fc8725" stroke-width="1.5"/>
<text x="867.80" y="246.65" font-size="22.3" fill="#000">alcgp</text>
<line x1="827.80" x2="851.50" y1="267.48" y2="267.48" stroke="#f46617" stroke-width="3.6"/>
<path d="M833.64 267.48L839.65 261.47L845.66 267.48L839.65 273.49Z" fill="none" stroke="#f46617" stroke-width="1.5"/>
<text x="867.80" y="275.98" font-size="22.3" fill="#000">bnn</text>
<line x1="827.80" x2="851.50" y1="296.81" y2="296.81" stroke="#e7490c" stroke-width="3.6"/>
<path d="M835.40 292.56L843.90 301.06M835.40 301.06L843.90 292.56" fill="none" stroke="#e7490c" stroke-width="1.5"/>
<text x="867.80" y="305.31" font-size="22.3" fill="#000">ngboost</text>
<line x1="827.80" x2="851.50" y1="326.14" y2="326.14" stroke="#d43305" stroke-width="3.6"/>
<circle cx="839.65" cy="326.14" r="4.25" fill="none" stroke="#d43305" stroke-width="1.5"/>
<text x="867.80" y="334.64" font-size="22.3" fill="#000">bcart</text>
<line x1="827.80" x2="851.50" y1="355.47" y2="355.47" stroke="#bc2002" stroke-width="3.6"/>
<rect x="835.40" y="351.22" width="8.50" height="8.50" fill="none" stroke="#bc2002" stroke-width="1.5"/>
<text x="867.80" y="363.97" font-size="22.3" fill="#000">blm</text>
<line x1="827.80" x2="851.50" y1="384.80" y2="384.80" stroke="#9e1001" stroke-width="3.6"/>
<path d="M839.65 378.60L845.02 387.90L834.28 387.90Z" fill="none" stroke="#9e1001" stroke-width="1.5"/>
<text x="867.80" y="393.30" font-size="22.3" fill="#000">blasso</text>
<line x1="827.80" x2="851.50" y1="414.13" y2="414.13" stroke="#7a0403" stroke-width="3.6"/>
<path d="M833.64 414.13L839.65 408.12L845.66 414.13L839.65 420.14Z" fill="none" stroke="#7a0403" stroke-width="1.5"/>
<text x="867.80" y="422.63" font-size="22.3" fill="#000">baseline</text>
</g>
</svg>
</body></html>
